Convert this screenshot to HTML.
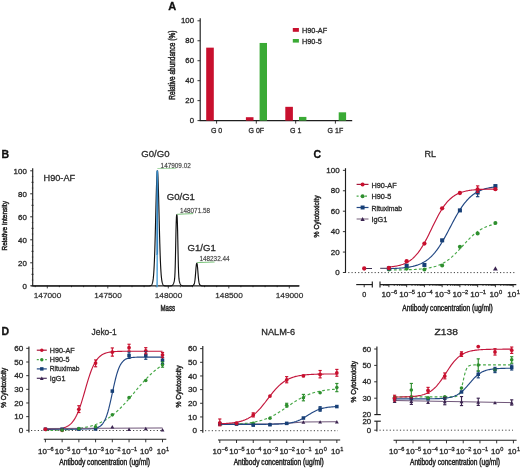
<!DOCTYPE html><html><head><meta charset="utf-8"><style>html,body{margin:0;padding:0;background:#fff;}svg{display:block;will-change:transform;}text{font-family:"Liberation Sans", sans-serif;}</style></head><body>
<div id="w"><svg width="520" height="468" viewBox="0 0 520 468">
<rect width="520" height="468" fill="#ffffff"/>
<text x="168.20" y="10.20" font-size="11" text-anchor="start" fill="#111" stroke="#111" stroke-width="0.3" font-weight="bold"  >A</text>
<line x1="200.20" y1="18.30" x2="200.20" y2="121.10" stroke="#1e1e1e" stroke-width="1.15" />
<line x1="199.70" y1="120.60" x2="352.20" y2="120.60" stroke="#1e1e1e" stroke-width="1.15" />
<line x1="197.50" y1="120.60" x2="200.20" y2="120.60" stroke="#1e1e1e" stroke-width="0.9" />
<text x="194.00" y="123.20" font-size="7.3" text-anchor="end" fill="#2a2a2a" stroke="#2a2a2a" stroke-width="0.3" font-weight="normal" textLength="4.34" lengthAdjust="spacingAndGlyphs" >0</text>
<line x1="197.50" y1="100.64" x2="200.20" y2="100.64" stroke="#1e1e1e" stroke-width="0.9" />
<text x="194.00" y="103.24" font-size="7.3" text-anchor="end" fill="#2a2a2a" stroke="#2a2a2a" stroke-width="0.3" font-weight="normal" textLength="8.69" lengthAdjust="spacingAndGlyphs" >20</text>
<line x1="197.50" y1="80.68" x2="200.20" y2="80.68" stroke="#1e1e1e" stroke-width="0.9" />
<text x="194.00" y="83.28" font-size="7.3" text-anchor="end" fill="#2a2a2a" stroke="#2a2a2a" stroke-width="0.3" font-weight="normal" textLength="8.69" lengthAdjust="spacingAndGlyphs" >40</text>
<line x1="197.50" y1="60.72" x2="200.20" y2="60.72" stroke="#1e1e1e" stroke-width="0.9" />
<text x="194.00" y="63.32" font-size="7.3" text-anchor="end" fill="#2a2a2a" stroke="#2a2a2a" stroke-width="0.3" font-weight="normal" textLength="8.69" lengthAdjust="spacingAndGlyphs" >60</text>
<line x1="197.50" y1="40.76" x2="200.20" y2="40.76" stroke="#1e1e1e" stroke-width="0.9" />
<text x="194.00" y="43.36" font-size="7.3" text-anchor="end" fill="#2a2a2a" stroke="#2a2a2a" stroke-width="0.3" font-weight="normal" textLength="8.69" lengthAdjust="spacingAndGlyphs" >80</text>
<line x1="197.50" y1="20.80" x2="200.20" y2="20.80" stroke="#1e1e1e" stroke-width="0.9" />
<text x="194.00" y="23.40" font-size="7.3" text-anchor="end" fill="#2a2a2a" stroke="#2a2a2a" stroke-width="0.3" font-weight="normal" textLength="13.03" lengthAdjust="spacingAndGlyphs" >100</text>
<text transform="translate(174.60,65.20) rotate(-90)" x="0" y="0" font-size="8.3" text-anchor="middle" fill="#2a2a2a" stroke="#2a2a2a" stroke-width="0.5" font-weight="normal" textLength="69.0" lengthAdjust="spacingAndGlyphs">Relative abundance (%)</text>
<line x1="216.60" y1="120.60" x2="216.60" y2="123.60" stroke="#1e1e1e" stroke-width="0.9" />
<text x="216.60" y="133.20" font-size="7.0" text-anchor="middle" fill="#2a2a2a" stroke="#2a2a2a" stroke-width="0.3" font-weight="normal"  >G 0</text>
<rect x="206.20" y="47.65" width="7.60" height="72.95" fill="#c8102e"/>
<rect x="219.90" y="120.60" width="7.40" height="0.00" fill="#3aaa35"/>
<line x1="256.30" y1="120.60" x2="256.30" y2="123.60" stroke="#1e1e1e" stroke-width="0.9" />
<text x="256.30" y="133.20" font-size="7.0" text-anchor="middle" fill="#2a2a2a" stroke="#2a2a2a" stroke-width="0.3" font-weight="normal"  >G 0F</text>
<rect x="245.90" y="117.21" width="7.60" height="3.39" fill="#c8102e"/>
<rect x="259.60" y="42.96" width="7.40" height="77.64" fill="#3aaa35"/>
<line x1="295.70" y1="120.60" x2="295.70" y2="123.60" stroke="#1e1e1e" stroke-width="0.9" />
<text x="295.70" y="133.20" font-size="7.0" text-anchor="middle" fill="#2a2a2a" stroke="#2a2a2a" stroke-width="0.3" font-weight="normal"  >G 1</text>
<rect x="285.30" y="106.83" width="7.60" height="13.77" fill="#c8102e"/>
<rect x="299.00" y="116.91" width="7.40" height="3.69" fill="#3aaa35"/>
<line x1="335.40" y1="120.60" x2="335.40" y2="123.60" stroke="#1e1e1e" stroke-width="0.9" />
<text x="335.40" y="133.20" font-size="7.0" text-anchor="middle" fill="#2a2a2a" stroke="#2a2a2a" stroke-width="0.3" font-weight="normal"  >G 1F</text>
<rect x="325.00" y="120.60" width="7.60" height="0.00" fill="#c8102e"/>
<rect x="338.70" y="112.32" width="7.40" height="8.28" fill="#3aaa35"/>
<rect x="292.80" y="28.00" width="6.10" height="3.80" fill="#c8102e"/>
<rect x="292.80" y="39.00" width="6.10" height="3.60" fill="#3aaa35"/>
<text x="302.00" y="32.50" font-size="7.3" text-anchor="start" fill="#2a2a2a" stroke="#2a2a2a" stroke-width="0.3" font-weight="normal"  >H90-AF</text>
<text x="302.00" y="43.60" font-size="7.3" text-anchor="start" fill="#2a2a2a" stroke="#2a2a2a" stroke-width="0.3" font-weight="normal"  >H90-5</text>
<text x="1.40" y="157.60" font-size="10.5" text-anchor="start" fill="#111" stroke="#111" stroke-width="0.3" font-weight="bold"  >B</text>
<line x1="32.70" y1="168.30" x2="32.70" y2="286.30" stroke="#1e1e1e" stroke-width="1.15" />
<line x1="31.40" y1="285.90" x2="299.50" y2="285.90" stroke="#1e1e1e" stroke-width="1.3" />
<line x1="30.20" y1="285.80" x2="32.70" y2="285.80" stroke="#1e1e1e" stroke-width="0.9" />
<text x="26.80" y="288.80" font-size="7.2" text-anchor="end" fill="#2a2a2a" stroke="#2a2a2a" stroke-width="0.3" font-weight="normal" textLength="4.40" lengthAdjust="spacingAndGlyphs" >0</text>
<line x1="30.20" y1="262.80" x2="32.70" y2="262.80" stroke="#1e1e1e" stroke-width="0.9" />
<text x="26.80" y="265.80" font-size="7.2" text-anchor="end" fill="#2a2a2a" stroke="#2a2a2a" stroke-width="0.3" font-weight="normal" textLength="8.81" lengthAdjust="spacingAndGlyphs" >20</text>
<line x1="30.20" y1="239.80" x2="32.70" y2="239.80" stroke="#1e1e1e" stroke-width="0.9" />
<text x="26.80" y="242.80" font-size="7.2" text-anchor="end" fill="#2a2a2a" stroke="#2a2a2a" stroke-width="0.3" font-weight="normal" textLength="8.81" lengthAdjust="spacingAndGlyphs" >40</text>
<line x1="30.20" y1="216.80" x2="32.70" y2="216.80" stroke="#1e1e1e" stroke-width="0.9" />
<text x="26.80" y="219.80" font-size="7.2" text-anchor="end" fill="#2a2a2a" stroke="#2a2a2a" stroke-width="0.3" font-weight="normal" textLength="8.81" lengthAdjust="spacingAndGlyphs" >60</text>
<line x1="30.20" y1="193.80" x2="32.70" y2="193.80" stroke="#1e1e1e" stroke-width="0.9" />
<text x="26.80" y="196.80" font-size="7.2" text-anchor="end" fill="#2a2a2a" stroke="#2a2a2a" stroke-width="0.3" font-weight="normal" textLength="8.81" lengthAdjust="spacingAndGlyphs" >80</text>
<line x1="30.20" y1="170.80" x2="32.70" y2="170.80" stroke="#1e1e1e" stroke-width="0.9" />
<text x="26.80" y="173.80" font-size="7.2" text-anchor="end" fill="#2a2a2a" stroke="#2a2a2a" stroke-width="0.3" font-weight="normal" textLength="13.21" lengthAdjust="spacingAndGlyphs" >100</text>
<line x1="31.80" y1="280.05" x2="33.30" y2="280.05" stroke="#1e1e1e" stroke-width="0.6" />
<line x1="31.50" y1="274.30" x2="33.50" y2="274.30" stroke="#1e1e1e" stroke-width="0.9" />
<line x1="31.80" y1="268.55" x2="33.30" y2="268.55" stroke="#1e1e1e" stroke-width="0.6" />
<line x1="31.80" y1="257.05" x2="33.30" y2="257.05" stroke="#1e1e1e" stroke-width="0.6" />
<line x1="31.50" y1="251.30" x2="33.50" y2="251.30" stroke="#1e1e1e" stroke-width="0.9" />
<line x1="31.80" y1="245.55" x2="33.30" y2="245.55" stroke="#1e1e1e" stroke-width="0.6" />
<line x1="31.80" y1="234.05" x2="33.30" y2="234.05" stroke="#1e1e1e" stroke-width="0.6" />
<line x1="31.50" y1="228.30" x2="33.50" y2="228.30" stroke="#1e1e1e" stroke-width="0.9" />
<line x1="31.80" y1="222.55" x2="33.30" y2="222.55" stroke="#1e1e1e" stroke-width="0.6" />
<line x1="31.80" y1="211.05" x2="33.30" y2="211.05" stroke="#1e1e1e" stroke-width="0.6" />
<line x1="31.50" y1="205.30" x2="33.50" y2="205.30" stroke="#1e1e1e" stroke-width="0.9" />
<line x1="31.80" y1="199.55" x2="33.30" y2="199.55" stroke="#1e1e1e" stroke-width="0.6" />
<line x1="31.80" y1="188.05" x2="33.30" y2="188.05" stroke="#1e1e1e" stroke-width="0.6" />
<line x1="31.50" y1="182.30" x2="33.50" y2="182.30" stroke="#1e1e1e" stroke-width="0.9" />
<line x1="31.80" y1="176.55" x2="33.30" y2="176.55" stroke="#1e1e1e" stroke-width="0.6" />
<line x1="35.20" y1="285.80" x2="35.20" y2="287.20" stroke="#1e1e1e" stroke-width="0.8" />
<line x1="47.30" y1="285.80" x2="47.30" y2="288.40" stroke="#1e1e1e" stroke-width="0.8" />
<text x="47.50" y="298.40" font-size="7.3" text-anchor="middle" fill="#2a2a2a" stroke="#2a2a2a" stroke-width="0.3" font-weight="normal" textLength="27.53" lengthAdjust="spacingAndGlyphs" stroke-opacity="0.6">147000</text>
<line x1="59.40" y1="285.80" x2="59.40" y2="287.20" stroke="#1e1e1e" stroke-width="0.8" />
<line x1="71.50" y1="285.80" x2="71.50" y2="287.20" stroke="#1e1e1e" stroke-width="0.8" />
<line x1="83.60" y1="285.80" x2="83.60" y2="287.20" stroke="#1e1e1e" stroke-width="0.8" />
<line x1="95.70" y1="285.80" x2="95.70" y2="287.20" stroke="#1e1e1e" stroke-width="0.8" />
<line x1="107.80" y1="285.80" x2="107.80" y2="288.40" stroke="#1e1e1e" stroke-width="0.8" />
<text x="108.00" y="298.40" font-size="7.3" text-anchor="middle" fill="#2a2a2a" stroke="#2a2a2a" stroke-width="0.3" font-weight="normal" textLength="27.53" lengthAdjust="spacingAndGlyphs" stroke-opacity="0.6">147500</text>
<line x1="119.90" y1="285.80" x2="119.90" y2="287.20" stroke="#1e1e1e" stroke-width="0.8" />
<line x1="132.00" y1="285.80" x2="132.00" y2="287.20" stroke="#1e1e1e" stroke-width="0.8" />
<line x1="144.10" y1="285.80" x2="144.10" y2="287.20" stroke="#1e1e1e" stroke-width="0.8" />
<line x1="156.20" y1="285.80" x2="156.20" y2="287.20" stroke="#1e1e1e" stroke-width="0.8" />
<line x1="168.30" y1="285.80" x2="168.30" y2="288.40" stroke="#1e1e1e" stroke-width="0.8" />
<text x="168.50" y="298.40" font-size="7.3" text-anchor="middle" fill="#2a2a2a" stroke="#2a2a2a" stroke-width="0.3" font-weight="normal" textLength="27.53" lengthAdjust="spacingAndGlyphs" stroke-opacity="0.6">148000</text>
<line x1="180.40" y1="285.80" x2="180.40" y2="287.20" stroke="#1e1e1e" stroke-width="0.8" />
<line x1="192.50" y1="285.80" x2="192.50" y2="287.20" stroke="#1e1e1e" stroke-width="0.8" />
<line x1="204.60" y1="285.80" x2="204.60" y2="287.20" stroke="#1e1e1e" stroke-width="0.8" />
<line x1="216.70" y1="285.80" x2="216.70" y2="287.20" stroke="#1e1e1e" stroke-width="0.8" />
<line x1="228.80" y1="285.80" x2="228.80" y2="288.40" stroke="#1e1e1e" stroke-width="0.8" />
<text x="229.00" y="298.40" font-size="7.3" text-anchor="middle" fill="#2a2a2a" stroke="#2a2a2a" stroke-width="0.3" font-weight="normal" textLength="27.53" lengthAdjust="spacingAndGlyphs" stroke-opacity="0.6">148500</text>
<line x1="240.90" y1="285.80" x2="240.90" y2="287.20" stroke="#1e1e1e" stroke-width="0.8" />
<line x1="253.00" y1="285.80" x2="253.00" y2="287.20" stroke="#1e1e1e" stroke-width="0.8" />
<line x1="265.10" y1="285.80" x2="265.10" y2="287.20" stroke="#1e1e1e" stroke-width="0.8" />
<line x1="277.20" y1="285.80" x2="277.20" y2="287.20" stroke="#1e1e1e" stroke-width="0.8" />
<line x1="289.30" y1="285.80" x2="289.30" y2="288.40" stroke="#1e1e1e" stroke-width="0.8" />
<text x="289.50" y="298.40" font-size="7.3" text-anchor="middle" fill="#2a2a2a" stroke="#2a2a2a" stroke-width="0.3" font-weight="normal" textLength="27.53" lengthAdjust="spacingAndGlyphs" stroke-opacity="0.6">149000</text>
<text transform="translate(6.80,225.80) rotate(-90)" x="0" y="0" font-size="7.4" text-anchor="middle" fill="#2a2a2a" stroke="#2a2a2a" stroke-width="0.5" font-weight="normal" textLength="49.4" lengthAdjust="spacingAndGlyphs">Relative intensity</text>
<text x="167.80" y="311.40" font-size="8.2" text-anchor="middle" fill="#2a2a2a" stroke="#2a2a2a" stroke-width="0.5" font-weight="normal" textLength="14.6" lengthAdjust="spacingAndGlyphs">Mass</text>
<text x="43.50" y="180.80" font-size="9.2" text-anchor="start" fill="#2a2a2a" stroke="#2a2a2a" stroke-width="0.3" font-weight="normal"  >H90-AF</text>
<polyline points="33.00,286.00 33.20,286.00 33.40,286.00 33.60,286.00 33.80,286.00 34.00,286.00 34.20,286.00 34.40,286.00 34.60,286.00 34.80,286.00 35.00,286.00 35.20,286.00 35.40,286.00 35.60,286.00 35.80,286.00 36.00,286.00 36.20,286.00 36.40,286.00 36.60,286.00 36.80,286.00 37.00,286.00 37.20,286.00 37.40,286.00 37.60,286.00 37.80,286.00 38.00,286.00 38.20,286.00 38.40,286.00 38.60,286.00 38.80,286.00 39.00,286.00 39.20,286.00 39.40,286.00 39.60,286.00 39.80,286.00 40.00,286.00 40.20,286.00 40.40,286.00 40.60,286.00 40.80,286.00 41.00,286.00 41.20,286.00 41.40,286.00 41.60,286.00 41.80,286.00 42.00,286.00 42.20,286.00 42.40,286.00 42.60,286.00 42.80,286.00 43.00,286.00 43.20,286.00 43.40,286.00 43.60,286.00 43.80,286.00 44.00,286.00 44.20,286.00 44.40,286.00 44.60,286.00 44.80,286.00 45.00,286.00 45.20,286.00 45.40,286.00 45.60,286.00 45.80,286.00 46.00,286.00 46.20,286.00 46.40,286.00 46.60,286.00 46.80,286.00 47.00,286.00 47.20,286.00 47.40,286.00 47.60,286.00 47.80,286.00 48.00,286.00 48.20,286.00 48.40,286.00 48.60,286.00 48.80,286.00 49.00,286.00 49.20,286.00 49.40,286.00 49.60,286.00 49.80,286.00 50.00,286.00 50.20,286.00 50.40,286.00 50.60,286.00 50.80,286.00 51.00,286.00 51.20,286.00 51.40,286.00 51.60,286.00 51.80,286.00 52.00,286.00 52.20,286.00 52.40,286.00 52.60,286.00 52.80,286.00 53.00,286.00 53.20,286.00 53.40,286.00 53.60,286.00 53.80,286.00 54.00,286.00 54.20,286.00 54.40,286.00 54.60,286.00 54.80,286.00 55.00,286.00 55.20,286.00 55.40,286.00 55.60,286.00 55.80,286.00 56.00,286.00 56.20,286.00 56.40,286.00 56.60,286.00 56.80,286.00 57.00,286.00 57.20,286.00 57.40,286.00 57.60,286.00 57.80,286.00 58.00,286.00 58.20,286.00 58.40,286.00 58.60,286.00 58.80,286.00 59.00,286.00 59.20,286.00 59.40,286.00 59.60,286.00 59.80,286.00 60.00,286.00 60.20,286.00 60.40,286.00 60.60,286.00 60.80,286.00 61.00,286.00 61.20,286.00 61.40,286.00 61.60,286.00 61.80,286.00 62.00,286.00 62.20,286.00 62.40,286.00 62.60,286.00 62.80,286.00 63.00,286.00 63.20,286.00 63.40,286.00 63.60,286.00 63.80,286.00 64.00,286.00 64.20,286.00 64.40,286.00 64.60,286.00 64.80,286.00 65.00,286.00 65.20,286.00 65.40,286.00 65.60,286.00 65.80,286.00 66.00,286.00 66.20,286.00 66.40,286.00 66.60,286.00 66.80,286.00 67.00,286.00 67.20,286.00 67.40,286.00 67.60,286.00 67.80,286.00 68.00,286.00 68.20,286.00 68.40,286.00 68.60,286.00 68.80,286.00 69.00,286.00 69.20,286.00 69.40,286.00 69.60,286.00 69.80,286.00 70.00,286.00 70.20,286.00 70.40,286.00 70.60,286.00 70.80,286.00 71.00,286.00 71.20,286.00 71.40,286.00 71.60,286.00 71.80,286.00 72.00,286.00 72.20,286.00 72.40,286.00 72.60,286.00 72.80,286.00 73.00,286.00 73.20,286.00 73.40,286.00 73.60,286.00 73.80,286.00 74.00,286.00 74.20,286.00 74.40,286.00 74.60,286.00 74.80,286.00 75.00,286.00 75.20,286.00 75.40,286.00 75.60,286.00 75.80,286.00 76.00,286.00 76.20,286.00 76.40,286.00 76.60,286.00 76.80,286.00 77.00,286.00 77.20,286.00 77.40,286.00 77.60,286.00 77.80,286.00 78.00,286.00 78.20,286.00 78.40,286.00 78.60,286.00 78.80,286.00 79.00,286.00 79.20,286.00 79.40,286.00 79.60,286.00 79.80,286.00 80.00,286.00 80.20,286.00 80.40,286.00 80.60,286.00 80.80,286.00 81.00,286.00 81.20,286.00 81.40,286.00 81.60,286.00 81.80,286.00 82.00,286.00 82.20,286.00 82.40,286.00 82.60,286.00 82.80,286.00 83.00,286.00 83.20,286.00 83.40,286.00 83.60,286.00 83.80,286.00 84.00,286.00 84.20,286.00 84.40,286.00 84.60,286.00 84.80,286.00 85.00,286.00 85.20,286.00 85.40,286.00 85.60,286.00 85.80,286.00 86.00,286.00 86.20,286.00 86.40,286.00 86.60,286.00 86.80,286.00 87.00,286.00 87.20,286.00 87.40,286.00 87.60,286.00 87.80,286.00 88.00,286.00 88.20,286.00 88.40,286.00 88.60,286.00 88.80,286.00 89.00,286.00 89.20,286.00 89.40,286.00 89.60,286.00 89.80,286.00 90.00,286.00 90.20,286.00 90.40,286.00 90.60,286.00 90.80,286.00 91.00,286.00 91.20,286.00 91.40,286.00 91.60,286.00 91.80,286.00 92.00,286.00 92.20,286.00 92.40,286.00 92.60,286.00 92.80,286.00 93.00,286.00 93.20,286.00 93.40,286.00 93.60,286.00 93.80,286.00 94.00,286.00 94.20,286.00 94.40,286.00 94.60,286.00 94.80,286.00 95.00,286.00 95.20,286.00 95.40,286.00 95.60,286.00 95.80,286.00 96.00,286.00 96.20,286.00 96.40,286.00 96.60,286.00 96.80,286.00 97.00,286.00 97.20,286.00 97.40,286.00 97.60,286.00 97.80,286.00 98.00,286.00 98.20,286.00 98.40,286.00 98.60,286.00 98.80,286.00 99.00,286.00 99.20,286.00 99.40,286.00 99.60,286.00 99.80,286.00 100.00,286.00 100.20,286.00 100.40,286.00 100.60,286.00 100.80,286.00 101.00,286.00 101.20,286.00 101.40,286.00 101.60,286.00 101.80,286.00 102.00,286.00 102.20,286.00 102.40,286.00 102.60,286.00 102.80,286.00 103.00,286.00 103.20,286.00 103.40,286.00 103.60,286.00 103.80,286.00 104.00,286.00 104.20,286.00 104.40,286.00 104.60,286.00 104.80,286.00 105.00,286.00 105.20,286.00 105.40,286.00 105.60,286.00 105.80,286.00 106.00,286.00 106.20,286.00 106.40,286.00 106.60,286.00 106.80,286.00 107.00,286.00 107.20,286.00 107.40,286.00 107.60,286.00 107.80,286.00 108.00,286.00 108.20,286.00 108.40,286.00 108.60,286.00 108.80,286.00 109.00,286.00 109.20,286.00 109.40,286.00 109.60,286.00 109.80,286.00 110.00,286.00 110.20,286.00 110.40,286.00 110.60,286.00 110.80,286.00 111.00,286.00 111.20,286.00 111.40,286.00 111.60,286.00 111.80,286.00 112.00,286.00 112.20,286.00 112.40,286.00 112.60,286.00 112.80,286.00 113.00,286.00 113.20,286.00 113.40,286.00 113.60,286.00 113.80,286.00 114.00,286.00 114.20,286.00 114.40,286.00 114.60,286.00 114.80,286.00 115.00,286.00 115.20,286.00 115.40,286.00 115.60,286.00 115.80,286.00 116.00,286.00 116.20,286.00 116.40,286.00 116.60,286.00 116.80,286.00 117.00,286.00 117.20,286.00 117.40,286.00 117.60,286.00 117.80,286.00 118.00,286.00 118.20,286.00 118.40,286.00 118.60,286.00 118.80,286.00 119.00,286.00 119.20,286.00 119.40,286.00 119.60,286.00 119.80,286.00 120.00,286.00 120.20,286.00 120.40,286.00 120.60,286.00 120.80,286.00 121.00,286.00 121.20,286.00 121.40,286.00 121.60,286.00 121.80,286.00 122.00,286.00 122.20,286.00 122.40,286.00 122.60,286.00 122.80,286.00 123.00,286.00 123.20,286.00 123.40,286.00 123.60,286.00 123.80,286.00 124.00,286.00 124.20,286.00 124.40,286.00 124.60,286.00 124.80,286.00 125.00,286.00 125.20,286.00 125.40,286.00 125.60,286.00 125.80,286.00 126.00,286.00 126.20,286.00 126.40,286.00 126.60,286.00 126.80,286.00 127.00,286.00 127.20,286.00 127.40,286.00 127.60,286.00 127.80,286.00 128.00,286.00 128.20,286.00 128.40,286.00 128.60,286.00 128.80,286.00 129.00,286.00 129.20,286.00 129.40,286.00 129.60,286.00 129.80,286.00 130.00,286.00 130.20,286.00 130.40,286.00 130.60,286.00 130.80,286.00 131.00,286.00 131.20,286.00 131.40,286.00 131.60,286.00 131.80,286.00 132.00,286.00 132.20,286.00 132.40,286.00 132.60,286.00 132.80,286.00 133.00,286.00 133.20,286.00 133.40,286.00 133.60,286.00 133.80,286.00 134.00,286.00 134.20,286.00 134.40,286.00 134.60,286.00 134.80,286.00 135.00,286.00 135.20,286.00 135.40,286.00 135.60,286.00 135.80,286.00 136.00,286.00 136.20,286.00 136.40,286.00 136.60,286.00 136.80,286.00 137.00,286.00 137.20,286.00 137.40,286.00 137.60,286.00 137.80,286.00 138.00,286.00 138.20,286.00 138.40,286.00 138.60,286.00 138.80,286.00 139.00,286.00 139.20,286.00 139.40,286.00 139.60,286.00 139.80,286.00 140.00,286.00 140.20,286.00 140.40,286.00 140.60,286.00 140.80,286.00 141.00,286.00 141.20,286.00 141.40,286.00 141.60,286.00 141.80,286.00 142.00,286.00 142.20,286.00 142.40,286.00 142.60,286.00 142.80,286.00 143.00,286.00 143.20,286.00 143.40,286.00 143.60,286.00 143.80,286.00 144.00,286.00 144.20,286.00 144.40,286.00 144.60,286.00 144.80,286.00 145.00,286.00 145.20,286.00 145.40,286.00 145.60,286.00 145.80,286.00 146.00,286.00 146.20,286.00 146.40,286.00 146.60,286.00 146.80,286.00 147.00,286.00 147.20,286.00 147.40,286.00 147.60,286.00 147.80,285.99 148.00,285.99 148.20,285.99 148.40,285.98 148.60,285.98 148.80,285.97 149.00,285.96 149.20,285.95 149.40,285.93 149.60,285.91 149.80,285.88 150.00,285.84 150.20,285.79 150.40,285.73 150.60,285.66 150.80,285.56 151.00,285.44 151.20,285.29 151.40,285.10 151.60,284.87 151.80,284.58 152.00,284.21 152.20,283.74 152.40,283.16 152.60,282.43 152.80,281.51 153.00,280.36 153.20,278.93 153.40,277.15 153.60,274.97 153.80,272.31 154.00,269.12 154.20,265.32 154.40,260.87 154.60,255.73 154.80,249.90 155.00,243.39 155.20,236.28 155.40,228.66 155.60,220.68 155.80,212.53 156.00,204.44 156.20,196.67 156.40,189.48 156.60,183.14 156.80,177.91 157.00,174.00 157.20,171.59 157.40,170.77 157.60,171.59 157.80,174.00 158.00,177.91 158.20,183.14 158.40,189.48 158.60,196.67 158.80,204.44 159.00,212.53 159.20,220.68 159.40,228.66 159.60,236.28 159.80,243.39 160.00,249.90 160.20,255.73 160.40,260.87 160.60,265.32 160.80,269.12 161.00,272.31 161.20,274.97 161.40,277.15 161.60,278.93 161.80,280.36 162.00,281.51 162.20,282.43 162.40,283.16 162.60,283.74 162.80,284.21 163.00,284.58 163.20,284.87 163.40,285.10 163.60,285.29 163.80,285.44 164.00,285.56 164.20,285.66 164.40,285.73 164.60,285.79 164.80,285.84 165.00,285.88 165.20,285.91 165.40,285.93 165.60,285.95 165.80,285.96 166.00,285.97 166.20,285.98 166.40,285.98 166.60,285.99 166.80,285.99 167.00,285.99 167.20,286.00 167.40,286.00 167.60,286.00 167.80,286.00 168.00,286.00 168.20,286.00 168.40,286.00 168.60,286.00 168.80,286.00 169.00,286.00 169.20,286.00 169.40,285.99 169.60,285.99 169.80,285.99 170.00,285.98 170.20,285.97 170.40,285.96 170.60,285.94 170.80,285.92 171.00,285.89 171.20,285.85 171.40,285.80 171.60,285.73 171.80,285.64 172.00,285.53 172.20,285.39 172.40,285.22 172.60,285.01 172.80,284.76 173.00,284.46 173.20,284.10 173.40,283.70 173.60,283.24 173.80,282.71 174.00,282.11 174.20,281.38 174.40,280.40 174.60,278.93 174.80,276.55 175.00,272.74 175.20,267.02 175.40,259.25 175.60,249.83 175.80,239.74 176.00,230.29 176.20,222.69 176.40,217.65 176.60,215.22 176.80,214.70 177.00,215.22 177.20,217.65 177.40,222.69 177.60,230.29 177.80,239.74 178.00,249.83 178.20,259.25 178.40,267.02 178.60,272.74 178.80,276.55 179.00,278.93 179.20,280.40 179.40,281.38 179.60,282.11 179.80,282.71 180.00,283.24 180.20,283.70 180.40,284.10 180.60,284.46 180.80,284.76 181.00,285.01 181.20,285.22 181.40,285.39 181.60,285.53 181.80,285.64 182.00,285.73 182.20,285.80 182.40,285.85 182.60,285.89 182.80,285.92 183.00,285.94 183.20,285.96 183.40,285.97 183.60,285.98 183.80,285.99 184.00,285.99 184.20,285.99 184.40,286.00 184.60,286.00 184.80,286.00 185.00,286.00 185.20,286.00 185.40,286.00 185.60,286.00 185.80,286.00 186.00,286.00 186.20,286.00 186.40,286.00 186.60,286.00 186.80,286.00 187.00,286.00 187.20,286.00 187.40,286.00 187.60,286.00 187.80,286.00 188.00,286.00 188.20,286.00 188.40,286.00 188.60,286.00 188.80,286.00 189.00,286.00 189.20,286.00 189.40,286.00 189.60,286.00 189.80,286.00 190.00,285.99 190.20,285.99 190.40,285.99 190.60,285.98 190.80,285.97 191.00,285.96 191.20,285.95 191.40,285.93 191.60,285.90 191.80,285.87 192.00,285.83 192.20,285.78 192.40,285.72 192.60,285.64 192.80,285.55 193.00,285.44 193.20,285.31 193.40,285.15 193.60,284.95 193.80,284.70 194.00,284.37 194.20,283.92 194.40,283.30 194.60,282.44 194.80,281.27 195.00,279.75 195.20,277.84 195.40,275.59 195.60,273.10 195.80,270.52 196.00,268.07 196.20,265.97 196.40,264.40 196.60,263.49 196.80,263.23 197.00,263.49 197.20,264.40 197.40,265.97 197.60,268.07 197.80,270.52 198.00,273.10 198.20,275.59 198.40,277.84 198.60,279.75 198.80,281.27 199.00,282.44 199.20,283.30 199.40,283.92 199.60,284.37 199.80,284.70 200.00,284.95 200.20,285.15 200.40,285.31 200.60,285.44 200.80,285.55 201.00,285.64 201.20,285.72 201.40,285.78 201.60,285.83 201.80,285.87 202.00,285.90 202.20,285.93 202.40,285.95 202.60,285.96 202.80,285.97 203.00,285.98 203.20,285.99 203.40,285.99 203.60,285.99 203.80,286.00 204.00,286.00 204.20,286.00 204.40,286.00 204.60,286.00 204.80,286.00 205.00,286.00 205.20,286.00 205.40,286.00 205.60,286.00 205.80,286.00 206.00,286.00 206.20,286.00 206.40,286.00 206.60,286.00 206.80,286.00 207.00,286.00 207.20,286.00 207.40,286.00 207.60,286.00 207.80,286.00 208.00,286.00 208.20,286.00 208.40,286.00 208.60,286.00 208.80,286.00 209.00,286.00 209.20,286.00 209.40,286.00 209.60,286.00 209.80,286.00 210.00,286.00 210.20,286.00 210.40,286.00 210.60,286.00 210.80,286.00 211.00,286.00 211.20,286.00 211.40,286.00 211.60,286.00 211.80,286.00 212.00,286.00 212.20,286.00 212.40,286.00 212.60,286.00 212.80,286.00 213.00,286.00 213.20,286.00 213.40,286.00 213.60,286.00 213.80,286.00 214.00,286.00 214.20,286.00 214.40,286.00 214.60,286.00 214.80,286.00 215.00,286.00 215.20,286.00 215.40,286.00 215.60,286.00 215.80,286.00 216.00,286.00 216.20,286.00 216.40,286.00 216.60,286.00 216.80,286.00 217.00,286.00 217.20,286.00 217.40,286.00 217.60,286.00 217.80,286.00 218.00,286.00 218.20,286.00 218.40,286.00 218.60,286.00 218.80,286.00 219.00,286.00 219.20,286.00 219.40,286.00 219.60,286.00 219.80,286.00 220.00,286.00 220.20,286.00 220.40,286.00 220.60,286.00 220.80,286.00 221.00,286.00 221.20,286.00 221.40,286.00 221.60,286.00 221.80,286.00 222.00,286.00 222.20,286.00 222.40,286.00 222.60,286.00 222.80,286.00 223.00,286.00 223.20,286.00 223.40,286.00 223.60,286.00 223.80,286.00 224.00,286.00 224.20,286.00 224.40,286.00 224.60,286.00 224.80,286.00 225.00,286.00 225.20,286.00 225.40,286.00 225.60,286.00 225.80,286.00 226.00,286.00 226.20,286.00 226.40,286.00 226.60,286.00 226.80,286.00 227.00,286.00 227.20,286.00 227.40,286.00 227.60,286.00 227.80,286.00 228.00,286.00 228.20,286.00 228.40,286.00 228.60,286.00 228.80,286.00 229.00,286.00 229.20,286.00 229.40,286.00 229.60,286.00 229.80,286.00 230.00,286.00 230.20,286.00 230.40,286.00 230.60,286.00 230.80,286.00 231.00,286.00 231.20,286.00 231.40,286.00 231.60,286.00 231.80,286.00 232.00,286.00 232.20,286.00 232.40,286.00 232.60,286.00 232.80,286.00 233.00,286.00 233.20,286.00 233.40,286.00 233.60,286.00 233.80,286.00 234.00,286.00 234.20,286.00 234.40,286.00 234.60,286.00 234.80,286.00 235.00,286.00 235.20,286.00 235.40,286.00 235.60,286.00 235.80,286.00 236.00,286.00 236.20,286.00 236.40,286.00 236.60,286.00 236.80,286.00 237.00,286.00 237.20,286.00 237.40,286.00 237.60,286.00 237.80,286.00 238.00,286.00 238.20,286.00 238.40,286.00 238.60,286.00 238.80,286.00 239.00,286.00 239.20,286.00 239.40,286.00 239.60,286.00 239.80,286.00 240.00,286.00 240.20,286.00 240.40,286.00 240.60,286.00 240.80,286.00 241.00,286.00 241.20,286.00 241.40,286.00 241.60,286.00 241.80,286.00 242.00,286.00 242.20,286.00 242.40,286.00 242.60,286.00 242.80,286.00 243.00,286.00 243.20,286.00 243.40,286.00 243.60,286.00 243.80,286.00 244.00,286.00 244.20,286.00 244.40,286.00 244.60,286.00 244.80,286.00 245.00,286.00 245.20,286.00 245.40,286.00 245.60,286.00 245.80,286.00 246.00,286.00 246.20,286.00 246.40,286.00 246.60,286.00 246.80,286.00 247.00,286.00 247.20,286.00 247.40,286.00 247.60,286.00 247.80,286.00 248.00,286.00 248.20,286.00 248.40,286.00 248.60,286.00 248.80,286.00 249.00,286.00 249.20,286.00 249.40,286.00 249.60,286.00 249.80,286.00 250.00,286.00 250.20,286.00 250.40,286.00 250.60,286.00 250.80,286.00 251.00,286.00 251.20,286.00 251.40,286.00 251.60,286.00 251.80,286.00 252.00,286.00 252.20,286.00 252.40,286.00 252.60,286.00 252.80,286.00 253.00,286.00 253.20,286.00 253.40,286.00 253.60,286.00 253.80,286.00 254.00,286.00 254.20,286.00 254.40,286.00 254.60,286.00 254.80,286.00 255.00,286.00 255.20,286.00 255.40,286.00 255.60,286.00 255.80,286.00 256.00,286.00 256.20,286.00 256.40,286.00 256.60,286.00 256.80,286.00 257.00,286.00 257.20,286.00 257.40,286.00 257.60,286.00 257.80,286.00 258.00,286.00 258.20,286.00 258.40,286.00 258.60,286.00 258.80,286.00 259.00,286.00 259.20,286.00 259.40,286.00 259.60,286.00 259.80,286.00 260.00,286.00 260.20,286.00 260.40,286.00 260.60,286.00 260.80,286.00 261.00,286.00 261.20,286.00 261.40,286.00 261.60,286.00 261.80,286.00 262.00,286.00 262.20,286.00 262.40,286.00 262.60,286.00 262.80,286.00 263.00,286.00 263.20,286.00 263.40,286.00 263.60,286.00 263.80,286.00 264.00,286.00 264.20,286.00 264.40,286.00 264.60,286.00 264.80,286.00 265.00,286.00 265.20,286.00 265.40,286.00 265.60,286.00 265.80,286.00 266.00,286.00 266.20,286.00 266.40,286.00 266.60,286.00 266.80,286.00 267.00,286.00 267.20,286.00 267.40,286.00 267.60,286.00 267.80,286.00 268.00,286.00 268.20,286.00 268.40,286.00 268.60,286.00 268.80,286.00 269.00,286.00 269.20,286.00 269.40,286.00 269.60,286.00 269.80,286.00 270.00,286.00 270.20,286.00 270.40,286.00 270.60,286.00 270.80,286.00 271.00,286.00 271.20,286.00 271.40,286.00 271.60,286.00 271.80,286.00 272.00,286.00 272.20,286.00 272.40,286.00 272.60,286.00 272.80,286.00 273.00,286.00 273.20,286.00 273.40,286.00 273.60,286.00 273.80,286.00 274.00,286.00 274.20,286.00 274.40,286.00 274.60,286.00 274.80,286.00 275.00,286.00 275.20,286.00 275.40,286.00 275.60,286.00 275.80,286.00 276.00,286.00 276.20,286.00 276.40,286.00 276.60,286.00 276.80,286.00 277.00,286.00 277.20,286.00 277.40,286.00 277.60,286.00 277.80,286.00 278.00,286.00 278.20,286.00 278.40,286.00 278.60,286.00 278.80,286.00 279.00,286.00 279.20,286.00 279.40,286.00 279.60,286.00 279.80,286.00 280.00,286.00 280.20,286.00 280.40,286.00 280.60,286.00 280.80,286.00 281.00,286.00 281.20,286.00 281.40,286.00 281.60,286.00 281.80,286.00 282.00,286.00 282.20,286.00 282.40,286.00 282.60,286.00 282.80,286.00 283.00,286.00 283.20,286.00 283.40,286.00 283.60,286.00 283.80,286.00 284.00,286.00 284.20,286.00 284.40,286.00 284.60,286.00 284.80,286.00 285.00,286.00 285.20,286.00 285.40,286.00 285.60,286.00 285.80,286.00 286.00,286.00 286.20,286.00 286.40,286.00 286.60,286.00 286.80,286.00 287.00,286.00 287.20,286.00 287.40,286.00 287.60,286.00 287.80,286.00 288.00,286.00 288.20,286.00 288.40,286.00 288.60,286.00 288.80,286.00 289.00,286.00 289.20,286.00 289.40,286.00 289.60,286.00 289.80,286.00 290.00,286.00 290.20,286.00 290.40,286.00 290.60,286.00 290.80,286.00 291.00,286.00 291.20,286.00 291.40,286.00 291.60,286.00 291.80,286.00 292.00,286.00 292.20,286.00 292.40,286.00 292.60,286.00 292.80,286.00 293.00,286.00 293.20,286.00 293.40,286.00 293.60,286.00 293.80,286.00 294.00,286.00 294.20,286.00 294.40,286.00 294.60,286.00 294.80,286.00 295.00,286.00 295.20,286.00 295.40,286.00 295.60,286.00 295.80,286.00 296.00,286.00 296.20,286.00 296.40,286.00 296.60,286.00 296.80,286.00 297.00,286.00 297.20,286.00 297.40,286.00 297.60,286.00 297.80,286.00 298.00,286.00 298.20,286.00 298.40,286.00 298.60,286.00 298.80,286.00 299.00,286.00" fill="none" stroke="#111111" stroke-width="1.15" stroke-linejoin="round" />
<line x1="157.30" y1="170.60" x2="157.20" y2="255.00" stroke="#3587c4" stroke-width="1.8" />
<line x1="157.20" y1="254.00" x2="157.10" y2="287.20" stroke="#4aa0d8" stroke-width="1.4" />
<line x1="157.40" y1="168.50" x2="176.00" y2="168.30" stroke="#8fd08f" stroke-width="0.8" />
<line x1="176.90" y1="214.30" x2="193.20" y2="213.60" stroke="#5cb85c" stroke-width="0.8" />
<line x1="197.10" y1="262.60" x2="214.60" y2="262.00" stroke="#5cb85c" stroke-width="0.8" />
<text x="160.60" y="167.60" font-size="6.4" text-anchor="start" fill="#3a3a3a" stroke="#3a3a3a" stroke-width="0.3" font-weight="normal"  stroke-opacity="0.4">147909.02</text>
<text x="179.90" y="212.60" font-size="6.4" text-anchor="start" fill="#3a3a3a" stroke="#3a3a3a" stroke-width="0.3" font-weight="normal"  stroke-opacity="0.4">148071.58</text>
<text x="199.40" y="261.30" font-size="6.4" text-anchor="start" fill="#3a3a3a" stroke="#3a3a3a" stroke-width="0.3" font-weight="normal"  stroke-opacity="0.4">148232.44</text>
<text x="141.30" y="157.40" font-size="9.6" text-anchor="start" fill="#2a2a2a" stroke="#2a2a2a" stroke-width="0.3" font-weight="normal"  >G0/G0</text>
<text x="166.70" y="200.00" font-size="9.6" text-anchor="start" fill="#2a2a2a" stroke="#2a2a2a" stroke-width="0.3" font-weight="normal"  >G0/G1</text>
<text x="187.50" y="251.20" font-size="9.6" text-anchor="start" fill="#2a2a2a" stroke="#2a2a2a" stroke-width="0.3" font-weight="normal"  >G1/G1</text>
<text x="313.40" y="157.70" font-size="10.5" text-anchor="start" fill="#111" stroke="#111" stroke-width="0.3" font-weight="bold"  >C</text>
<text x="430.20" y="157.20" font-size="9.0" text-anchor="middle" fill="#2a2a2a" stroke="#2a2a2a" stroke-width="0.3" font-weight="normal"  >RL</text>
<line x1="345.50" y1="168.20" x2="345.50" y2="272.90" stroke="#1e1e1e" stroke-width="1.15" />
<line x1="342.90" y1="272.50" x2="345.50" y2="272.50" stroke="#1e1e1e" stroke-width="0.9" />
<text x="339.70" y="275.10" font-size="7.4" text-anchor="end" fill="#2a2a2a" stroke="#2a2a2a" stroke-width="0.3" font-weight="normal" textLength="4.44" lengthAdjust="spacingAndGlyphs" >0</text>
<line x1="342.90" y1="252.07" x2="345.50" y2="252.07" stroke="#1e1e1e" stroke-width="0.9" />
<text x="339.70" y="254.67" font-size="7.4" text-anchor="end" fill="#2a2a2a" stroke="#2a2a2a" stroke-width="0.3" font-weight="normal" textLength="8.89" lengthAdjust="spacingAndGlyphs" >20</text>
<line x1="342.90" y1="231.64" x2="345.50" y2="231.64" stroke="#1e1e1e" stroke-width="0.9" />
<text x="339.70" y="234.24" font-size="7.4" text-anchor="end" fill="#2a2a2a" stroke="#2a2a2a" stroke-width="0.3" font-weight="normal" textLength="8.89" lengthAdjust="spacingAndGlyphs" >40</text>
<line x1="342.90" y1="211.21" x2="345.50" y2="211.21" stroke="#1e1e1e" stroke-width="0.9" />
<text x="339.70" y="213.81" font-size="7.4" text-anchor="end" fill="#2a2a2a" stroke="#2a2a2a" stroke-width="0.3" font-weight="normal" textLength="8.89" lengthAdjust="spacingAndGlyphs" >60</text>
<line x1="342.90" y1="190.78" x2="345.50" y2="190.78" stroke="#1e1e1e" stroke-width="0.9" />
<text x="339.70" y="193.38" font-size="7.4" text-anchor="end" fill="#2a2a2a" stroke="#2a2a2a" stroke-width="0.3" font-weight="normal" textLength="8.89" lengthAdjust="spacingAndGlyphs" >80</text>
<line x1="342.90" y1="170.35" x2="345.50" y2="170.35" stroke="#1e1e1e" stroke-width="0.9" />
<text x="339.70" y="172.95" font-size="7.4" text-anchor="end" fill="#2a2a2a" stroke="#2a2a2a" stroke-width="0.3" font-weight="normal" textLength="13.33" lengthAdjust="spacingAndGlyphs" >100</text>
<line x1="348.20" y1="272.60" x2="514.50" y2="272.60" stroke="#444" stroke-width="1.0" stroke-dasharray="1.2,2.1"/>
<text transform="translate(319.20,216.40) rotate(-90)" x="0" y="0" font-size="7.8" text-anchor="middle" fill="#2a2a2a" stroke="#2a2a2a" stroke-width="0.5" font-weight="normal" textLength="42.0" lengthAdjust="spacingAndGlyphs">% Cytotoxicity</text>
<line x1="356.20" y1="284.60" x2="372.30" y2="284.60" stroke="#1e1e1e" stroke-width="1.15" />
<line x1="372.30" y1="281.60" x2="372.30" y2="287.40" stroke="#1e1e1e" stroke-width="1.15" />
<line x1="364.20" y1="284.60" x2="364.20" y2="287.20" stroke="#1e1e1e" stroke-width="0.9" />
<text x="364.20" y="297.20" font-size="7.2" text-anchor="middle" fill="#2a2a2a" stroke="#2a2a2a" stroke-width="0.3" font-weight="normal"  >0</text>
<line x1="380.00" y1="284.60" x2="516.30" y2="284.60" stroke="#1e1e1e" stroke-width="1.15" />
<line x1="380.00" y1="281.60" x2="380.00" y2="287.40" stroke="#1e1e1e" stroke-width="1.15" />
<line x1="388.90" y1="284.60" x2="388.90" y2="287.20" stroke="#1e1e1e" stroke-width="0.9" />
<text x="381.41" y="297.30" font-size="7.2" fill="#2a2a2a" stroke="#2a2a2a" stroke-width="0.3" textLength="9.13" lengthAdjust="spacingAndGlyphs">10</text>
<text x="390.89" y="294.10" font-size="5.76" fill="#2a2a2a" stroke="#2a2a2a" stroke-width="0.3">–6</text>
<line x1="394.24" y1="284.60" x2="394.24" y2="286.00" stroke="#1e1e1e" stroke-width="0.7" />
<line x1="397.37" y1="284.60" x2="397.37" y2="286.00" stroke="#1e1e1e" stroke-width="0.7" />
<line x1="399.59" y1="284.60" x2="399.59" y2="286.00" stroke="#1e1e1e" stroke-width="0.7" />
<line x1="401.31" y1="284.60" x2="401.31" y2="286.00" stroke="#1e1e1e" stroke-width="0.7" />
<line x1="402.71" y1="284.60" x2="402.71" y2="286.00" stroke="#1e1e1e" stroke-width="0.7" />
<line x1="403.90" y1="284.60" x2="403.90" y2="286.00" stroke="#1e1e1e" stroke-width="0.7" />
<line x1="404.93" y1="284.60" x2="404.93" y2="286.00" stroke="#1e1e1e" stroke-width="0.7" />
<line x1="405.84" y1="284.60" x2="405.84" y2="286.00" stroke="#1e1e1e" stroke-width="0.7" />
<line x1="406.65" y1="284.60" x2="406.65" y2="287.20" stroke="#1e1e1e" stroke-width="0.9" />
<text x="399.16" y="297.30" font-size="7.2" fill="#2a2a2a" stroke="#2a2a2a" stroke-width="0.3" textLength="9.13" lengthAdjust="spacingAndGlyphs">10</text>
<text x="408.64" y="294.10" font-size="5.76" fill="#2a2a2a" stroke="#2a2a2a" stroke-width="0.3">–5</text>
<line x1="411.99" y1="284.60" x2="411.99" y2="286.00" stroke="#1e1e1e" stroke-width="0.7" />
<line x1="415.12" y1="284.60" x2="415.12" y2="286.00" stroke="#1e1e1e" stroke-width="0.7" />
<line x1="417.34" y1="284.60" x2="417.34" y2="286.00" stroke="#1e1e1e" stroke-width="0.7" />
<line x1="419.06" y1="284.60" x2="419.06" y2="286.00" stroke="#1e1e1e" stroke-width="0.7" />
<line x1="420.46" y1="284.60" x2="420.46" y2="286.00" stroke="#1e1e1e" stroke-width="0.7" />
<line x1="421.65" y1="284.60" x2="421.65" y2="286.00" stroke="#1e1e1e" stroke-width="0.7" />
<line x1="422.68" y1="284.60" x2="422.68" y2="286.00" stroke="#1e1e1e" stroke-width="0.7" />
<line x1="423.59" y1="284.60" x2="423.59" y2="286.00" stroke="#1e1e1e" stroke-width="0.7" />
<line x1="424.40" y1="284.60" x2="424.40" y2="287.20" stroke="#1e1e1e" stroke-width="0.9" />
<text x="416.91" y="297.30" font-size="7.2" fill="#2a2a2a" stroke="#2a2a2a" stroke-width="0.3" textLength="9.13" lengthAdjust="spacingAndGlyphs">10</text>
<text x="426.39" y="294.10" font-size="5.76" fill="#2a2a2a" stroke="#2a2a2a" stroke-width="0.3">–4</text>
<line x1="429.74" y1="284.60" x2="429.74" y2="286.00" stroke="#1e1e1e" stroke-width="0.7" />
<line x1="432.87" y1="284.60" x2="432.87" y2="286.00" stroke="#1e1e1e" stroke-width="0.7" />
<line x1="435.09" y1="284.60" x2="435.09" y2="286.00" stroke="#1e1e1e" stroke-width="0.7" />
<line x1="436.81" y1="284.60" x2="436.81" y2="286.00" stroke="#1e1e1e" stroke-width="0.7" />
<line x1="438.21" y1="284.60" x2="438.21" y2="286.00" stroke="#1e1e1e" stroke-width="0.7" />
<line x1="439.40" y1="284.60" x2="439.40" y2="286.00" stroke="#1e1e1e" stroke-width="0.7" />
<line x1="440.43" y1="284.60" x2="440.43" y2="286.00" stroke="#1e1e1e" stroke-width="0.7" />
<line x1="441.34" y1="284.60" x2="441.34" y2="286.00" stroke="#1e1e1e" stroke-width="0.7" />
<line x1="442.15" y1="284.60" x2="442.15" y2="287.20" stroke="#1e1e1e" stroke-width="0.9" />
<text x="434.66" y="297.30" font-size="7.2" fill="#2a2a2a" stroke="#2a2a2a" stroke-width="0.3" textLength="9.13" lengthAdjust="spacingAndGlyphs">10</text>
<text x="444.14" y="294.10" font-size="5.76" fill="#2a2a2a" stroke="#2a2a2a" stroke-width="0.3">–3</text>
<line x1="447.49" y1="284.60" x2="447.49" y2="286.00" stroke="#1e1e1e" stroke-width="0.7" />
<line x1="450.62" y1="284.60" x2="450.62" y2="286.00" stroke="#1e1e1e" stroke-width="0.7" />
<line x1="452.84" y1="284.60" x2="452.84" y2="286.00" stroke="#1e1e1e" stroke-width="0.7" />
<line x1="454.56" y1="284.60" x2="454.56" y2="286.00" stroke="#1e1e1e" stroke-width="0.7" />
<line x1="455.96" y1="284.60" x2="455.96" y2="286.00" stroke="#1e1e1e" stroke-width="0.7" />
<line x1="457.15" y1="284.60" x2="457.15" y2="286.00" stroke="#1e1e1e" stroke-width="0.7" />
<line x1="458.18" y1="284.60" x2="458.18" y2="286.00" stroke="#1e1e1e" stroke-width="0.7" />
<line x1="459.09" y1="284.60" x2="459.09" y2="286.00" stroke="#1e1e1e" stroke-width="0.7" />
<line x1="459.90" y1="284.60" x2="459.90" y2="287.20" stroke="#1e1e1e" stroke-width="0.9" />
<text x="452.41" y="297.30" font-size="7.2" fill="#2a2a2a" stroke="#2a2a2a" stroke-width="0.3" textLength="9.13" lengthAdjust="spacingAndGlyphs">10</text>
<text x="461.89" y="294.10" font-size="5.76" fill="#2a2a2a" stroke="#2a2a2a" stroke-width="0.3">–2</text>
<line x1="465.24" y1="284.60" x2="465.24" y2="286.00" stroke="#1e1e1e" stroke-width="0.7" />
<line x1="468.37" y1="284.60" x2="468.37" y2="286.00" stroke="#1e1e1e" stroke-width="0.7" />
<line x1="470.59" y1="284.60" x2="470.59" y2="286.00" stroke="#1e1e1e" stroke-width="0.7" />
<line x1="472.31" y1="284.60" x2="472.31" y2="286.00" stroke="#1e1e1e" stroke-width="0.7" />
<line x1="473.71" y1="284.60" x2="473.71" y2="286.00" stroke="#1e1e1e" stroke-width="0.7" />
<line x1="474.90" y1="284.60" x2="474.90" y2="286.00" stroke="#1e1e1e" stroke-width="0.7" />
<line x1="475.93" y1="284.60" x2="475.93" y2="286.00" stroke="#1e1e1e" stroke-width="0.7" />
<line x1="476.84" y1="284.60" x2="476.84" y2="286.00" stroke="#1e1e1e" stroke-width="0.7" />
<line x1="477.65" y1="284.60" x2="477.65" y2="287.20" stroke="#1e1e1e" stroke-width="0.9" />
<text x="470.16" y="297.30" font-size="7.2" fill="#2a2a2a" stroke="#2a2a2a" stroke-width="0.3" textLength="9.13" lengthAdjust="spacingAndGlyphs">10</text>
<text x="479.64" y="294.10" font-size="5.76" fill="#2a2a2a" stroke="#2a2a2a" stroke-width="0.3">–1</text>
<line x1="482.99" y1="284.60" x2="482.99" y2="286.00" stroke="#1e1e1e" stroke-width="0.7" />
<line x1="486.12" y1="284.60" x2="486.12" y2="286.00" stroke="#1e1e1e" stroke-width="0.7" />
<line x1="488.34" y1="284.60" x2="488.34" y2="286.00" stroke="#1e1e1e" stroke-width="0.7" />
<line x1="490.06" y1="284.60" x2="490.06" y2="286.00" stroke="#1e1e1e" stroke-width="0.7" />
<line x1="491.46" y1="284.60" x2="491.46" y2="286.00" stroke="#1e1e1e" stroke-width="0.7" />
<line x1="492.65" y1="284.60" x2="492.65" y2="286.00" stroke="#1e1e1e" stroke-width="0.7" />
<line x1="493.68" y1="284.60" x2="493.68" y2="286.00" stroke="#1e1e1e" stroke-width="0.7" />
<line x1="494.59" y1="284.60" x2="494.59" y2="286.00" stroke="#1e1e1e" stroke-width="0.7" />
<line x1="495.40" y1="284.60" x2="495.40" y2="287.20" stroke="#1e1e1e" stroke-width="0.9" />
<text x="489.51" y="297.30" font-size="7.2" fill="#2a2a2a" stroke="#2a2a2a" stroke-width="0.3" textLength="9.13" lengthAdjust="spacingAndGlyphs">10</text>
<text x="498.99" y="294.10" font-size="5.76" fill="#2a2a2a" stroke="#2a2a2a" stroke-width="0.3">0</text>
<line x1="500.74" y1="284.60" x2="500.74" y2="286.00" stroke="#1e1e1e" stroke-width="0.7" />
<line x1="503.87" y1="284.60" x2="503.87" y2="286.00" stroke="#1e1e1e" stroke-width="0.7" />
<line x1="506.09" y1="284.60" x2="506.09" y2="286.00" stroke="#1e1e1e" stroke-width="0.7" />
<line x1="507.81" y1="284.60" x2="507.81" y2="286.00" stroke="#1e1e1e" stroke-width="0.7" />
<line x1="509.21" y1="284.60" x2="509.21" y2="286.00" stroke="#1e1e1e" stroke-width="0.7" />
<line x1="510.40" y1="284.60" x2="510.40" y2="286.00" stroke="#1e1e1e" stroke-width="0.7" />
<line x1="511.43" y1="284.60" x2="511.43" y2="286.00" stroke="#1e1e1e" stroke-width="0.7" />
<line x1="512.34" y1="284.60" x2="512.34" y2="286.00" stroke="#1e1e1e" stroke-width="0.7" />
<line x1="513.15" y1="284.60" x2="513.15" y2="287.20" stroke="#1e1e1e" stroke-width="0.9" />
<text x="507.26" y="297.30" font-size="7.2" fill="#2a2a2a" stroke="#2a2a2a" stroke-width="0.3" textLength="9.13" lengthAdjust="spacingAndGlyphs">10</text>
<text x="516.74" y="294.10" font-size="5.76" fill="#2a2a2a" stroke="#2a2a2a" stroke-width="0.3">1</text>
<line x1="383.56" y1="284.60" x2="383.56" y2="286.00" stroke="#1e1e1e" stroke-width="0.7" />
<line x1="384.96" y1="284.60" x2="384.96" y2="286.00" stroke="#1e1e1e" stroke-width="0.7" />
<line x1="386.15" y1="284.60" x2="386.15" y2="286.00" stroke="#1e1e1e" stroke-width="0.7" />
<line x1="387.18" y1="284.60" x2="387.18" y2="286.00" stroke="#1e1e1e" stroke-width="0.7" />
<line x1="388.09" y1="284.60" x2="388.09" y2="286.00" stroke="#1e1e1e" stroke-width="0.7" />
<text x="447.50" y="310.50" font-size="8.4" text-anchor="middle" fill="#2a2a2a" stroke="#2a2a2a" stroke-width="0.5" font-weight="normal" textLength="90.4" lengthAdjust="spacingAndGlyphs">Antibody concentration (ug/ml)</text>
<polyline points="388.90,269.97 389.79,269.97 390.67,269.96 391.56,269.96 392.45,269.95 393.34,269.94 394.22,269.94 395.11,269.93 396.00,269.92 396.89,269.91 397.77,269.90 398.66,269.89 399.55,269.88 400.44,269.87 401.32,269.86 402.21,269.84 403.10,269.83 403.99,269.81 404.88,269.79 405.76,269.77 406.65,269.75 407.54,269.72 408.42,269.70 409.31,269.67 410.20,269.64 411.09,269.61 411.97,269.57 412.86,269.53 413.75,269.49 414.64,269.45 415.52,269.40 416.41,269.35 417.30,269.29 418.19,269.23 419.07,269.16 419.96,269.09 420.85,269.01 421.74,268.93 422.62,268.83 423.51,268.74 424.40,268.63 425.29,268.51 426.17,268.39 427.06,268.26 427.95,268.11 428.84,267.96 429.72,267.79 430.61,267.61 431.50,267.41 432.39,267.20 433.27,266.98 434.16,266.74 435.05,266.48 435.94,266.20 436.82,265.90 437.71,265.59 438.60,265.25 439.49,264.88 440.38,264.50 441.26,264.08 442.15,263.65 443.04,263.18 443.92,262.69 444.81,262.17 445.70,261.61 446.59,261.03 447.47,260.42 448.36,259.78 449.25,259.11 450.14,258.40 451.02,257.67 451.91,256.91 452.80,256.11 453.69,255.29 454.57,254.45 455.46,253.57 456.35,252.68 457.24,251.76 458.12,250.83 459.01,249.88 459.90,248.92 460.79,247.95 461.67,246.97 462.56,245.99 463.45,245.01 464.34,244.03 465.22,243.06 466.11,242.09 467.00,241.14 467.89,240.21 468.77,239.29 469.66,238.39 470.55,237.52 471.44,236.67 472.32,235.85 473.21,235.05 474.10,234.28 474.99,233.55 475.88,232.84 476.76,232.16 477.65,231.51 478.54,230.90 479.42,230.31 480.31,229.76 481.20,229.23 482.09,228.74 482.97,228.27 483.86,227.83 484.75,227.41 485.64,227.02 486.52,226.66 487.41,226.32 488.30,226.00 489.19,225.70 490.07,225.42 490.96,225.15 491.85,224.91 492.74,224.68 493.62,224.47 494.51,224.28 495.40,224.10" fill="none" stroke="#46a846" stroke-width="1.15" stroke-linejoin="round" stroke-dasharray="2.8,2.2"/>
<polyline points="388.90,268.67 389.79,268.64 390.67,268.61 391.56,268.58 392.45,268.55 393.34,268.52 394.22,268.48 395.11,268.44 396.00,268.39 396.89,268.35 397.77,268.29 398.66,268.24 399.55,268.18 400.44,268.11 401.32,268.04 402.21,267.96 403.10,267.88 403.99,267.79 404.88,267.69 405.76,267.58 406.65,267.46 407.54,267.34 408.42,267.20 409.31,267.06 410.20,266.90 411.09,266.73 411.97,266.54 412.86,266.35 413.75,266.13 414.64,265.90 415.52,265.65 416.41,265.38 417.30,265.09 418.19,264.78 419.07,264.44 419.96,264.08 420.85,263.69 421.74,263.27 422.62,262.82 423.51,262.34 424.40,261.83 425.29,261.28 426.17,260.69 427.06,260.06 427.95,259.39 428.84,258.68 429.72,257.92 430.61,257.12 431.50,256.26 432.39,255.36 433.27,254.41 434.16,253.40 435.05,252.34 435.94,251.23 436.82,250.07 437.71,248.85 438.60,247.58 439.49,246.26 440.38,244.89 441.26,243.47 442.15,242.00 443.04,240.49 443.92,238.95 444.81,237.36 445.70,235.75 446.59,234.11 447.47,232.44 448.36,230.76 449.25,229.07 450.14,227.37 451.02,225.67 451.91,223.98 452.80,222.30 453.69,220.63 454.57,218.98 455.46,217.37 456.35,215.78 457.24,214.23 458.12,212.71 459.01,211.24 459.90,209.82 460.79,208.44 461.67,207.11 462.56,205.84 463.45,204.61 464.34,203.44 465.22,202.32 466.11,201.26 467.00,200.25 467.89,199.29 468.77,198.38 469.66,197.52 470.55,196.71 471.44,195.94 472.32,195.23 473.21,194.55 474.10,193.92 474.99,193.33 475.88,192.77 476.76,192.25 477.65,191.77 478.54,191.32 479.42,190.90 480.31,190.50 481.20,190.14 482.09,189.80 482.97,189.48 483.86,189.19 484.75,188.92 485.64,188.67 486.52,188.43 487.41,188.22 488.30,188.01 489.19,187.83 490.07,187.66 490.96,187.50 491.85,187.35 492.74,187.21 493.62,187.09 494.51,186.97 495.40,186.86" fill="none" stroke="#224884" stroke-width="1.15" stroke-linejoin="round" />
<polyline points="388.90,267.08 389.79,267.00 390.67,266.90 391.56,266.80 392.45,266.69 393.34,266.57 394.22,266.44 395.11,266.29 396.00,266.13 396.89,265.96 397.77,265.77 398.66,265.56 399.55,265.33 400.44,265.09 401.32,264.82 402.21,264.53 403.10,264.21 403.99,263.86 404.88,263.48 405.76,263.07 406.65,262.63 407.54,262.15 408.42,261.63 409.31,261.06 410.20,260.46 411.09,259.80 411.97,259.10 412.86,258.34 413.75,257.52 414.64,256.65 415.52,255.72 416.41,254.73 417.30,253.67 418.19,252.55 419.07,251.37 419.96,250.12 420.85,248.80 421.74,247.42 422.62,245.98 423.51,244.47 424.40,242.91 425.29,241.30 426.17,239.63 427.06,237.92 427.95,236.17 428.84,234.39 429.72,232.59 430.61,230.76 431.50,228.93 432.39,227.10 433.27,225.27 434.16,223.45 435.05,221.66 435.94,219.89 436.82,218.16 437.71,216.47 438.60,214.83 439.49,213.24 440.38,211.70 441.26,210.23 442.15,208.81 443.04,207.46 443.92,206.18 444.81,204.96 445.70,203.81 446.59,202.72 447.47,201.69 448.36,200.73 449.25,199.83 450.14,198.98 451.02,198.20 451.91,197.46 452.80,196.78 453.69,196.15 454.57,195.57 455.46,195.02 456.35,194.52 457.24,194.06 458.12,193.63 459.01,193.24 459.90,192.88 460.79,192.54 461.67,192.24 462.56,191.96 463.45,191.70 464.34,191.46 465.22,191.24 466.11,191.04 467.00,190.86 467.89,190.70 468.77,190.54 469.66,190.40 470.55,190.28 471.44,190.16 472.32,190.05 473.21,189.96 474.10,189.87 474.99,189.79 475.88,189.71 476.76,189.64 477.65,189.58 478.54,189.53 479.42,189.47 480.31,189.43 481.20,189.38 482.09,189.35 482.97,189.31 483.86,189.28 484.75,189.25 485.64,189.22 486.52,189.20 487.41,189.17 488.30,189.15 489.19,189.13 490.07,189.12 490.96,189.10 491.85,189.09 492.74,189.07 493.62,189.06 494.51,189.05 495.40,189.04" fill="none" stroke="#c3163c" stroke-width="1.15" stroke-linejoin="round" />
<line x1="364.20" y1="268.50" x2="372.00" y2="268.50" stroke="#3b3050" stroke-width="1.0" />
<line x1="380.20" y1="268.30" x2="388.90" y2="268.30" stroke="#3b3050" stroke-width="1.0" />
<circle cx="388.90" cy="269.44" r="2.0240000000000005" fill="#2f8f2f"/>
<circle cx="406.65" cy="268.62" r="2.0240000000000005" fill="#2f8f2f"/>
<circle cx="424.40" cy="269.54" r="2.0240000000000005" fill="#2f8f2f"/>
<circle cx="442.15" cy="265.45" r="2.0240000000000005" fill="#2f8f2f"/>
<circle cx="459.90" cy="246.86" r="2.0240000000000005" fill="#2f8f2f"/>
<circle cx="477.65" cy="233.58" r="2.0240000000000005" fill="#2f8f2f"/>
<circle cx="495.40" cy="223.06" r="2.0240000000000005" fill="#2f8f2f"/>
<line x1="477.65" y1="190.27" x2="477.65" y2="196.70" stroke="#173f76" stroke-width="1.15" />
<line x1="475.95" y1="190.27" x2="479.35" y2="190.27" stroke="#173f76" stroke-width="1.15" />
<line x1="475.95" y1="196.70" x2="479.35" y2="196.70" stroke="#173f76" stroke-width="1.15" />
<rect x="386.88" y="266.39" width="4.05" height="4.05" fill="#173f76"/>
<rect x="404.63" y="263.73" width="4.05" height="4.05" fill="#173f76"/>
<rect x="422.38" y="262.92" width="4.05" height="4.05" fill="#173f76"/>
<rect x="440.13" y="238.30" width="4.05" height="4.05" fill="#173f76"/>
<rect x="457.88" y="208.37" width="4.05" height="4.05" fill="#173f76"/>
<rect x="475.63" y="190.49" width="4.05" height="4.05" fill="#173f76"/>
<rect x="493.38" y="184.06" width="4.05" height="4.05" fill="#173f76"/>
<line x1="477.65" y1="185.88" x2="477.65" y2="192.31" stroke="#c8102e" stroke-width="1.15" />
<line x1="475.95" y1="185.88" x2="479.35" y2="185.88" stroke="#c8102e" stroke-width="1.15" />
<line x1="475.95" y1="192.31" x2="479.35" y2="192.31" stroke="#c8102e" stroke-width="1.15" />
<circle cx="388.90" cy="268.01" r="2.156" fill="#c8102e"/>
<circle cx="406.65" cy="261.26" r="2.156" fill="#c8102e"/>
<circle cx="424.40" cy="243.59" r="2.156" fill="#c8102e"/>
<circle cx="442.15" cy="208.35" r="2.156" fill="#c8102e"/>
<circle cx="459.90" cy="193.03" r="2.156" fill="#c8102e"/>
<circle cx="477.65" cy="189.45" r="2.156" fill="#c8102e"/>
<circle cx="495.40" cy="189.15" r="2.156" fill="#c8102e"/>
<circle cx="364.20" cy="268.50" r="2.156" fill="#c8102e"/>
<polygon points="493.00,270.57 497.80,270.57 495.40,266.25" fill="#3b2450"/>
<line x1="356.60" y1="184.40" x2="368.50" y2="184.40" stroke="#a8183a" stroke-width="1.2" />
<circle cx="362.60" cy="184.40" r="1.9800000000000002" fill="#c8102e"/>
<text x="371.50" y="187.50" font-size="7.3" text-anchor="start" fill="#2a2a2a" stroke="#2a2a2a" stroke-width="0.3" font-weight="normal"  >H90-AF</text>
<line x1="356.60" y1="196.20" x2="368.50" y2="196.20" stroke="#46a846" stroke-width="1.2" stroke-dasharray="2,2.2"/>
<circle cx="362.60" cy="196.20" r="1.9800000000000002" fill="#2f8f2f"/>
<text x="371.50" y="199.30" font-size="7.3" text-anchor="start" fill="#2a2a2a" stroke="#2a2a2a" stroke-width="0.3" font-weight="normal"  >H90-5</text>
<line x1="356.60" y1="207.50" x2="368.50" y2="207.50" stroke="#224884" stroke-width="1.2" />
<rect x="360.62" y="205.52" width="3.96" height="3.96" fill="#173f76"/>
<text x="371.5" y="210.60" font-size="7.3" fill="#2a2a2a" stroke="#2a2a2a" stroke-width="0.3" textLength="30.6" lengthAdjust="spacingAndGlyphs">Rituximab</text>
<line x1="356.60" y1="219.00" x2="368.50" y2="219.00" stroke="#8a7890" stroke-width="1.2" />
<polygon points="360.44,220.94 364.76,220.94 362.60,217.06" fill="#3b2450"/>
<text x="371.50" y="222.10" font-size="7.3" text-anchor="start" fill="#2a2a2a" stroke="#2a2a2a" stroke-width="0.3" font-weight="normal"  >IgG1</text>
<text x="1.60" y="335.00" font-size="10.5" text-anchor="start" fill="#111" stroke="#111" stroke-width="0.3" font-weight="bold"  >D</text>
<line x1="28.90" y1="346.40" x2="28.90" y2="432.60" stroke="#1e1e1e" stroke-width="1.15" />
<line x1="26.20" y1="430.30" x2="28.90" y2="430.30" stroke="#1e1e1e" stroke-width="0.9" />
<text x="23.20" y="432.90" font-size="7.4" text-anchor="end" fill="#2a2a2a" stroke="#2a2a2a" stroke-width="0.3" font-weight="normal" textLength="4.53" lengthAdjust="spacingAndGlyphs" >0</text>
<line x1="26.20" y1="416.64" x2="28.90" y2="416.64" stroke="#1e1e1e" stroke-width="0.9" />
<text x="23.20" y="419.24" font-size="7.4" text-anchor="end" fill="#2a2a2a" stroke="#2a2a2a" stroke-width="0.3" font-weight="normal" textLength="9.05" lengthAdjust="spacingAndGlyphs" >10</text>
<line x1="26.20" y1="402.98" x2="28.90" y2="402.98" stroke="#1e1e1e" stroke-width="0.9" />
<text x="23.20" y="405.58" font-size="7.4" text-anchor="end" fill="#2a2a2a" stroke="#2a2a2a" stroke-width="0.3" font-weight="normal" textLength="9.05" lengthAdjust="spacingAndGlyphs" >20</text>
<line x1="26.20" y1="389.32" x2="28.90" y2="389.32" stroke="#1e1e1e" stroke-width="0.9" />
<text x="23.20" y="391.92" font-size="7.4" text-anchor="end" fill="#2a2a2a" stroke="#2a2a2a" stroke-width="0.3" font-weight="normal" textLength="9.05" lengthAdjust="spacingAndGlyphs" >30</text>
<line x1="26.20" y1="375.66" x2="28.90" y2="375.66" stroke="#1e1e1e" stroke-width="0.9" />
<text x="23.20" y="378.26" font-size="7.4" text-anchor="end" fill="#2a2a2a" stroke="#2a2a2a" stroke-width="0.3" font-weight="normal" textLength="9.05" lengthAdjust="spacingAndGlyphs" >40</text>
<line x1="26.20" y1="362.00" x2="28.90" y2="362.00" stroke="#1e1e1e" stroke-width="0.9" />
<text x="23.20" y="364.60" font-size="7.4" text-anchor="end" fill="#2a2a2a" stroke="#2a2a2a" stroke-width="0.3" font-weight="normal" textLength="9.05" lengthAdjust="spacingAndGlyphs" >50</text>
<line x1="26.20" y1="348.34" x2="28.90" y2="348.34" stroke="#1e1e1e" stroke-width="0.9" />
<text x="23.20" y="350.94" font-size="7.4" text-anchor="end" fill="#2a2a2a" stroke="#2a2a2a" stroke-width="0.3" font-weight="normal" textLength="9.05" lengthAdjust="spacingAndGlyphs" >60</text>
<line x1="31.00" y1="430.50" x2="164.00" y2="430.50" stroke="#444" stroke-width="1.0" stroke-dasharray="1.2,2.2"/>
<line x1="43.80" y1="439.30" x2="166.30" y2="439.30" stroke="#1e1e1e" stroke-width="1.1" />
<line x1="45.40" y1="439.30" x2="45.40" y2="442.30" stroke="#1e1e1e" stroke-width="0.9" />
<text x="38.12" y="454.20" font-size="7.0" fill="#2a2a2a" stroke="#2a2a2a" stroke-width="0.3" textLength="8.88" lengthAdjust="spacingAndGlyphs">10</text>
<text x="47.35" y="451.00" font-size="5.60" fill="#2a2a2a" stroke="#2a2a2a" stroke-width="0.3">–6</text>
<line x1="62.13" y1="439.30" x2="62.13" y2="442.30" stroke="#1e1e1e" stroke-width="0.9" />
<text x="54.85" y="454.20" font-size="7.0" fill="#2a2a2a" stroke="#2a2a2a" stroke-width="0.3" textLength="8.88" lengthAdjust="spacingAndGlyphs">10</text>
<text x="64.08" y="451.00" font-size="5.60" fill="#2a2a2a" stroke="#2a2a2a" stroke-width="0.3">–5</text>
<line x1="78.86" y1="439.30" x2="78.86" y2="442.30" stroke="#1e1e1e" stroke-width="0.9" />
<text x="71.58" y="454.20" font-size="7.0" fill="#2a2a2a" stroke="#2a2a2a" stroke-width="0.3" textLength="8.88" lengthAdjust="spacingAndGlyphs">10</text>
<text x="80.81" y="451.00" font-size="5.60" fill="#2a2a2a" stroke="#2a2a2a" stroke-width="0.3">–4</text>
<line x1="95.59" y1="439.30" x2="95.59" y2="442.30" stroke="#1e1e1e" stroke-width="0.9" />
<text x="88.31" y="454.20" font-size="7.0" fill="#2a2a2a" stroke="#2a2a2a" stroke-width="0.3" textLength="8.88" lengthAdjust="spacingAndGlyphs">10</text>
<text x="97.54" y="451.00" font-size="5.60" fill="#2a2a2a" stroke="#2a2a2a" stroke-width="0.3">–3</text>
<line x1="112.32" y1="439.30" x2="112.32" y2="442.30" stroke="#1e1e1e" stroke-width="0.9" />
<text x="105.04" y="454.20" font-size="7.0" fill="#2a2a2a" stroke="#2a2a2a" stroke-width="0.3" textLength="8.88" lengthAdjust="spacingAndGlyphs">10</text>
<text x="114.27" y="451.00" font-size="5.60" fill="#2a2a2a" stroke="#2a2a2a" stroke-width="0.3">–2</text>
<line x1="129.05" y1="439.30" x2="129.05" y2="442.30" stroke="#1e1e1e" stroke-width="0.9" />
<text x="121.77" y="454.20" font-size="7.0" fill="#2a2a2a" stroke="#2a2a2a" stroke-width="0.3" textLength="8.88" lengthAdjust="spacingAndGlyphs">10</text>
<text x="131.00" y="451.00" font-size="5.60" fill="#2a2a2a" stroke="#2a2a2a" stroke-width="0.3">–1</text>
<line x1="145.78" y1="439.30" x2="145.78" y2="442.30" stroke="#1e1e1e" stroke-width="0.9" />
<text x="140.06" y="454.20" font-size="7.0" fill="#2a2a2a" stroke="#2a2a2a" stroke-width="0.3" textLength="8.88" lengthAdjust="spacingAndGlyphs">10</text>
<text x="149.29" y="451.00" font-size="5.60" fill="#2a2a2a" stroke="#2a2a2a" stroke-width="0.3">0</text>
<line x1="162.51" y1="439.30" x2="162.51" y2="442.30" stroke="#1e1e1e" stroke-width="0.9" />
<text x="156.79" y="454.20" font-size="7.0" fill="#2a2a2a" stroke="#2a2a2a" stroke-width="0.3" textLength="8.88" lengthAdjust="spacingAndGlyphs">10</text>
<text x="166.02" y="451.00" font-size="5.60" fill="#2a2a2a" stroke="#2a2a2a" stroke-width="0.3">1</text>
<text x="104.60" y="464.80" font-size="8.4" text-anchor="middle" fill="#2a2a2a" stroke="#2a2a2a" stroke-width="0.5" font-weight="normal" textLength="90.8" lengthAdjust="spacingAndGlyphs">Antibody concentration (ug/ml)</text>
<text transform="translate(6.40,387.70) rotate(-90)" x="0" y="0" font-size="7.8" text-anchor="middle" fill="#2a2a2a" stroke="#2a2a2a" stroke-width="0.5" font-weight="normal" textLength="40.0" lengthAdjust="spacingAndGlyphs">% Cytotoxicity</text>
<text x="104.15" y="334.60" font-size="9.2" text-anchor="middle" fill="#2a2a2a" stroke="#2a2a2a" stroke-width="0.3" font-weight="normal" textLength="25.2" lengthAdjust="spacingAndGlyphs">Jeko-1</text>
<polyline points="45.40,429.42 46.38,429.40 47.35,429.39 48.33,429.37 49.30,429.35 50.28,429.33 51.26,429.30 52.23,429.26 53.21,429.22 54.18,429.17 55.16,429.11 56.14,429.04 57.11,428.96 58.09,428.86 59.06,428.74 60.04,428.60 61.01,428.43 61.99,428.24 62.97,428.00 63.94,427.73 64.92,427.40 65.89,427.02 66.87,426.57 67.85,426.04 68.82,425.41 69.80,424.68 70.77,423.83 71.75,422.85 72.73,421.71 73.70,420.40 74.68,418.90 75.65,417.20 76.63,415.28 77.61,413.14 78.58,410.76 79.56,408.16 80.53,405.35 81.51,402.34 82.48,399.17 83.46,395.87 84.44,392.49 85.41,389.08 86.39,385.68 87.36,382.36 88.34,379.15 89.32,376.09 90.29,373.23 91.27,370.57 92.24,368.14 93.22,365.94 94.20,363.96 95.17,362.21 96.15,360.66 97.12,359.30 98.10,358.12 99.08,357.09 100.05,356.21 101.03,355.45 102.00,354.80 102.98,354.25 103.95,353.78 104.93,353.38 105.91,353.04 106.88,352.75 107.86,352.51 108.83,352.30 109.81,352.13 110.79,351.98 111.76,351.86 112.74,351.76 113.71,351.67 114.69,351.60 115.67,351.53 116.64,351.48 117.62,351.44 118.59,351.40 119.57,351.37 120.55,351.34 121.52,351.32 122.50,351.30 123.47,351.29 124.45,351.28 125.43,351.27 126.40,351.26 127.38,351.25 128.35,351.24 129.33,351.24 130.30,351.23 131.28,351.23 132.26,351.23 133.23,351.22 134.21,351.22 135.18,351.22 136.16,351.22 137.14,351.22 138.11,351.21 139.09,351.21 140.06,351.21 141.04,351.21 142.02,351.21 142.99,351.21 143.97,351.21 144.94,351.21 145.92,351.21 146.90,351.21 147.87,351.21 148.85,351.21 149.82,351.21 150.80,351.21 151.77,351.21 152.75,351.21 153.73,351.21 154.70,351.21 155.68,351.21 156.65,351.21 157.63,351.21 158.61,351.21 159.58,351.21 160.56,351.21 161.53,351.21 162.51,351.21" fill="none" stroke="#c3163c" stroke-width="1.15" stroke-linejoin="round" />
<polyline points="45.40,430.59 46.38,430.57 47.35,430.55 48.33,430.53 49.30,430.51 50.28,430.48 51.26,430.46 52.23,430.43 53.21,430.40 54.18,430.37 55.16,430.34 56.14,430.30 57.11,430.27 58.09,430.23 59.06,430.19 60.04,430.14 61.01,430.09 61.99,430.04 62.97,429.99 63.94,429.94 64.92,429.88 65.89,429.81 66.87,429.75 67.85,429.68 68.82,429.60 69.80,429.52 70.77,429.44 71.75,429.35 72.73,429.25 73.70,429.15 74.68,429.05 75.65,428.93 76.63,428.81 77.61,428.69 78.58,428.55 79.56,428.41 80.53,428.26 81.51,428.10 82.48,427.94 83.46,427.76 84.44,427.57 85.41,427.37 86.39,427.16 87.36,426.94 88.34,426.71 89.32,426.46 90.29,426.21 91.27,425.93 92.24,425.64 93.22,425.34 94.20,425.02 95.17,424.68 96.15,424.33 97.12,423.95 98.10,423.56 99.08,423.15 100.05,422.72 101.03,422.27 102.00,421.79 102.98,421.29 103.95,420.77 104.93,420.23 105.91,419.66 106.88,419.07 107.86,418.45 108.83,417.81 109.81,417.13 110.79,416.44 111.76,415.71 112.74,414.96 113.71,414.18 114.69,413.38 115.67,412.54 116.64,411.68 117.62,410.80 118.59,409.89 119.57,408.95 120.55,407.99 121.52,407.00 122.50,405.99 123.47,404.96 124.45,403.90 125.43,402.83 126.40,401.74 127.38,400.64 128.35,399.52 129.33,398.38 130.30,397.24 131.28,396.08 132.26,394.92 133.23,393.76 134.21,392.59 135.18,391.42 136.16,390.25 137.14,389.09 138.11,387.93 139.09,386.78 140.06,385.64 141.04,384.51 142.02,383.39 142.99,382.29 143.97,381.21 144.94,380.15 145.92,379.10 146.90,378.08 147.87,377.08 148.85,376.10 149.82,375.14 150.80,374.21 151.77,373.31 152.75,372.43 153.73,371.58 154.70,370.76 155.68,369.97 156.65,369.20 157.63,368.46 158.61,367.74 159.58,367.05 160.56,366.39 161.53,365.76 162.51,365.15" fill="none" stroke="#46a846" stroke-width="1.15" stroke-linejoin="round" stroke-dasharray="2.8,2.2"/>
<polyline points="45.40,429.07 46.38,429.07 47.35,429.07 48.33,429.07 49.30,429.07 50.28,429.07 51.26,429.07 52.23,429.07 53.21,429.07 54.18,429.07 55.16,429.07 56.14,429.07 57.11,429.07 58.09,429.07 59.06,429.07 60.04,429.07 61.01,429.07 61.99,429.07 62.97,429.07 63.94,429.07 64.92,429.07 65.89,429.07 66.87,429.07 67.85,429.07 68.82,429.07 69.80,429.07 70.77,429.07 71.75,429.07 72.73,429.07 73.70,429.07 74.68,429.07 75.65,429.07 76.63,429.06 77.61,429.06 78.58,429.06 79.56,429.06 80.53,429.05 81.51,429.05 82.48,429.04 83.46,429.03 84.44,429.02 85.41,429.01 86.39,428.99 87.36,428.97 88.34,428.93 89.32,428.90 90.29,428.84 91.27,428.78 92.24,428.69 93.22,428.59 94.20,428.45 95.17,428.27 96.15,428.04 97.12,427.74 98.10,427.37 99.08,426.88 100.05,426.27 101.03,425.50 102.00,424.53 102.98,423.31 103.95,421.81 104.93,419.96 105.91,417.73 106.88,415.08 107.86,411.98 108.83,408.43 109.81,404.48 110.79,400.20 111.76,395.70 112.74,391.11 113.71,386.59 114.69,382.27 115.67,378.26 116.64,374.66 117.62,371.49 118.59,368.77 119.57,366.48 120.55,364.59 121.52,363.04 122.50,361.78 123.47,360.78 124.45,359.98 125.43,359.35 126.40,358.85 127.38,358.46 128.35,358.15 129.33,357.92 130.30,357.73 131.28,357.58 132.26,357.47 133.23,357.38 134.21,357.32 135.18,357.26 136.16,357.22 137.14,357.19 138.11,357.17 139.09,357.15 140.06,357.13 141.04,357.12 142.02,357.11 142.99,357.11 143.97,357.10 144.94,357.10 145.92,357.09 146.90,357.09 147.87,357.09 148.85,357.09 149.82,357.09 150.80,357.09 151.77,357.08 152.75,357.08 153.73,357.08 154.70,357.08 155.68,357.08 156.65,357.08 157.63,357.08 158.61,357.08 159.58,357.08 160.56,357.08 161.53,357.08 162.51,357.08" fill="none" stroke="#224884" stroke-width="1.15" stroke-linejoin="round" />
<polyline points="45.40,428.52 162.51,427.98" fill="none" stroke="#6f5679" stroke-width="1.0" stroke-linejoin="round" />
<rect x="43.64" y="427.45" width="3.52" height="3.52" fill="#173f76"/>
<rect x="60.37" y="427.45" width="3.52" height="3.52" fill="#173f76"/>
<rect x="77.10" y="427.45" width="3.52" height="3.52" fill="#173f76"/>
<rect x="93.83" y="427.17" width="3.52" height="3.52" fill="#173f76"/>
<rect x="110.56" y="389.34" width="3.52" height="3.52" fill="#173f76"/>
<rect x="127.29" y="353.68" width="3.52" height="3.52" fill="#173f76"/>
<rect x="144.02" y="353.68" width="3.52" height="3.52" fill="#173f76"/>
<rect x="160.75" y="358.46" width="3.52" height="3.52" fill="#173f76"/>
<circle cx="62.13" cy="430.30" r="1.87" fill="#c8102e"/>
<circle cx="78.86" cy="409.26" r="1.87" fill="#c8102e"/>
<circle cx="95.59" cy="363.09" r="1.87" fill="#c8102e"/>
<circle cx="112.32" cy="352.03" r="1.87" fill="#c8102e"/>
<circle cx="129.05" cy="347.66" r="1.87" fill="#c8102e"/>
<circle cx="145.78" cy="350.80" r="1.87" fill="#c8102e"/>
<circle cx="162.51" cy="354.90" r="1.87" fill="#c8102e"/>
<circle cx="62.13" cy="430.30" r="1.804" fill="#2f8f2f"/>
<circle cx="78.86" cy="428.52" r="1.804" fill="#2f8f2f"/>
<circle cx="95.59" cy="426.75" r="1.804" fill="#2f8f2f"/>
<circle cx="112.32" cy="414.86" r="1.804" fill="#2f8f2f"/>
<circle cx="129.05" cy="397.65" r="1.804" fill="#2f8f2f"/>
<circle cx="145.78" cy="380.44" r="1.804" fill="#2f8f2f"/>
<circle cx="162.51" cy="364.60" r="1.804" fill="#2f8f2f"/>
<circle cx="45.40" cy="429.34" r="1.9800000000000002" fill="#c8102e"/>
<polygon points="110.40,428.48 114.24,428.48 112.32,425.02" fill="#3b2450"/>
<polygon points="127.13,431.07 130.97,431.07 129.05,427.62" fill="#3b2450"/>
<polygon points="143.86,430.25 147.70,430.25 145.78,426.80" fill="#3b2450"/>
<polygon points="160.59,431.48 164.43,431.48 162.51,428.03" fill="#3b2450"/>
<line x1="129.05" y1="352.03" x2="129.05" y2="358.45" stroke="#173f76" stroke-width="1.15" />
<line x1="127.45" y1="352.03" x2="130.65" y2="352.03" stroke="#173f76" stroke-width="1.15" />
<line x1="127.45" y1="358.45" x2="130.65" y2="358.45" stroke="#173f76" stroke-width="1.15" />
<line x1="145.78" y1="351.62" x2="145.78" y2="359.27" stroke="#173f76" stroke-width="1.15" />
<line x1="144.18" y1="351.62" x2="147.38" y2="351.62" stroke="#173f76" stroke-width="1.15" />
<line x1="144.18" y1="359.27" x2="147.38" y2="359.27" stroke="#173f76" stroke-width="1.15" />
<line x1="162.51" y1="357.36" x2="162.51" y2="363.37" stroke="#173f76" stroke-width="1.15" />
<line x1="160.91" y1="357.36" x2="164.11" y2="357.36" stroke="#173f76" stroke-width="1.15" />
<line x1="160.91" y1="363.37" x2="164.11" y2="363.37" stroke="#173f76" stroke-width="1.15" />
<line x1="162.51" y1="362.00" x2="162.51" y2="367.19" stroke="#2f8f2f" stroke-width="1.15" />
<line x1="160.91" y1="362.00" x2="164.11" y2="362.00" stroke="#2f8f2f" stroke-width="1.15" />
<line x1="160.91" y1="367.19" x2="164.11" y2="367.19" stroke="#2f8f2f" stroke-width="1.15" />
<line x1="162.51" y1="352.44" x2="162.51" y2="357.63" stroke="#c8102e" stroke-width="1.15" />
<line x1="160.91" y1="352.44" x2="164.11" y2="352.44" stroke="#c8102e" stroke-width="1.15" />
<line x1="160.91" y1="357.63" x2="164.11" y2="357.63" stroke="#c8102e" stroke-width="1.15" />
<line x1="78.86" y1="405.71" x2="78.86" y2="412.54" stroke="#c8102e" stroke-width="1.15" />
<line x1="77.26" y1="405.71" x2="80.46" y2="405.71" stroke="#c8102e" stroke-width="1.15" />
<line x1="77.26" y1="412.54" x2="80.46" y2="412.54" stroke="#c8102e" stroke-width="1.15" />
<line x1="95.59" y1="359.95" x2="95.59" y2="366.78" stroke="#c8102e" stroke-width="1.15" />
<line x1="93.99" y1="359.95" x2="97.19" y2="359.95" stroke="#c8102e" stroke-width="1.15" />
<line x1="93.99" y1="366.78" x2="97.19" y2="366.78" stroke="#c8102e" stroke-width="1.15" />
<line x1="112.32" y1="347.93" x2="112.32" y2="356.13" stroke="#c8102e" stroke-width="1.15" />
<line x1="110.72" y1="347.93" x2="113.92" y2="347.93" stroke="#c8102e" stroke-width="1.15" />
<line x1="110.72" y1="356.13" x2="113.92" y2="356.13" stroke="#c8102e" stroke-width="1.15" />
<line x1="129.05" y1="344.24" x2="129.05" y2="351.07" stroke="#c8102e" stroke-width="1.15" />
<line x1="127.45" y1="344.24" x2="130.65" y2="344.24" stroke="#c8102e" stroke-width="1.15" />
<line x1="127.45" y1="351.07" x2="130.65" y2="351.07" stroke="#c8102e" stroke-width="1.15" />
<line x1="145.78" y1="347.66" x2="145.78" y2="353.80" stroke="#c8102e" stroke-width="1.15" />
<line x1="144.18" y1="347.66" x2="147.38" y2="347.66" stroke="#c8102e" stroke-width="1.15" />
<line x1="144.18" y1="353.80" x2="147.38" y2="353.80" stroke="#c8102e" stroke-width="1.15" />
<line x1="36.80" y1="350.20" x2="46.80" y2="350.20" stroke="#a8183a" stroke-width="1.2" />
<circle cx="41.80" cy="350.20" r="1.7160000000000002" fill="#c8102e"/>
<text x="49.80" y="352.70" font-size="7.2" text-anchor="start" fill="#2a2a2a" stroke="#2a2a2a" stroke-width="0.3" font-weight="normal"  >H90-AF</text>
<line x1="36.80" y1="359.70" x2="46.80" y2="359.70" stroke="#46a846" stroke-width="1.2" stroke-dasharray="2,2.2"/>
<circle cx="41.80" cy="359.70" r="1.7160000000000002" fill="#2f8f2f"/>
<text x="49.80" y="362.20" font-size="7.2" text-anchor="start" fill="#2a2a2a" stroke="#2a2a2a" stroke-width="0.3" font-weight="normal"  >H90-5</text>
<line x1="36.80" y1="368.90" x2="46.80" y2="368.90" stroke="#224884" stroke-width="1.2" />
<rect x="40.08" y="367.18" width="3.43" height="3.43" fill="#173f76"/>
<text x="49.8" y="371.40" font-size="7.2" fill="#2a2a2a" stroke="#2a2a2a" stroke-width="0.3" textLength="29.6" lengthAdjust="spacingAndGlyphs">Rituximab</text>
<line x1="36.80" y1="378.30" x2="46.80" y2="378.30" stroke="#4e3460" stroke-width="1.2" />
<polygon points="39.93,379.98 43.67,379.98 41.80,376.62" fill="#3b2450"/>
<text x="49.80" y="380.80" font-size="7.2" text-anchor="start" fill="#2a2a2a" stroke="#2a2a2a" stroke-width="0.3" font-weight="normal"  >IgG1</text>
<line x1="202.80" y1="346.00" x2="202.80" y2="432.80" stroke="#1e1e1e" stroke-width="1.15" />
<line x1="200.10" y1="430.60" x2="202.80" y2="430.60" stroke="#1e1e1e" stroke-width="0.9" />
<text x="197.00" y="433.20" font-size="7.4" text-anchor="end" fill="#2a2a2a" stroke="#2a2a2a" stroke-width="0.3" font-weight="normal" textLength="4.53" lengthAdjust="spacingAndGlyphs" >0</text>
<line x1="200.10" y1="416.94" x2="202.80" y2="416.94" stroke="#1e1e1e" stroke-width="0.9" />
<text x="197.00" y="419.54" font-size="7.4" text-anchor="end" fill="#2a2a2a" stroke="#2a2a2a" stroke-width="0.3" font-weight="normal" textLength="9.05" lengthAdjust="spacingAndGlyphs" >10</text>
<line x1="200.10" y1="403.28" x2="202.80" y2="403.28" stroke="#1e1e1e" stroke-width="0.9" />
<text x="197.00" y="405.88" font-size="7.4" text-anchor="end" fill="#2a2a2a" stroke="#2a2a2a" stroke-width="0.3" font-weight="normal" textLength="9.05" lengthAdjust="spacingAndGlyphs" >20</text>
<line x1="200.10" y1="389.62" x2="202.80" y2="389.62" stroke="#1e1e1e" stroke-width="0.9" />
<text x="197.00" y="392.22" font-size="7.4" text-anchor="end" fill="#2a2a2a" stroke="#2a2a2a" stroke-width="0.3" font-weight="normal" textLength="9.05" lengthAdjust="spacingAndGlyphs" >30</text>
<line x1="200.10" y1="375.96" x2="202.80" y2="375.96" stroke="#1e1e1e" stroke-width="0.9" />
<text x="197.00" y="378.56" font-size="7.4" text-anchor="end" fill="#2a2a2a" stroke="#2a2a2a" stroke-width="0.3" font-weight="normal" textLength="9.05" lengthAdjust="spacingAndGlyphs" >40</text>
<line x1="200.10" y1="362.30" x2="202.80" y2="362.30" stroke="#1e1e1e" stroke-width="0.9" />
<text x="197.00" y="364.90" font-size="7.4" text-anchor="end" fill="#2a2a2a" stroke="#2a2a2a" stroke-width="0.3" font-weight="normal" textLength="9.05" lengthAdjust="spacingAndGlyphs" >50</text>
<line x1="200.10" y1="348.64" x2="202.80" y2="348.64" stroke="#1e1e1e" stroke-width="0.9" />
<text x="197.00" y="351.24" font-size="7.4" text-anchor="end" fill="#2a2a2a" stroke="#2a2a2a" stroke-width="0.3" font-weight="normal" textLength="9.05" lengthAdjust="spacingAndGlyphs" >60</text>
<line x1="205.00" y1="430.70" x2="338.00" y2="430.70" stroke="#444" stroke-width="1.0" stroke-dasharray="1.2,2.2"/>
<line x1="218.00" y1="440.00" x2="340.20" y2="440.00" stroke="#1e1e1e" stroke-width="1.1" />
<line x1="219.80" y1="440.00" x2="219.80" y2="443.00" stroke="#1e1e1e" stroke-width="0.9" />
<text x="212.52" y="454.20" font-size="7.0" fill="#2a2a2a" stroke="#2a2a2a" stroke-width="0.3" textLength="8.88" lengthAdjust="spacingAndGlyphs">10</text>
<text x="221.75" y="451.00" font-size="5.60" fill="#2a2a2a" stroke="#2a2a2a" stroke-width="0.3">–6</text>
<line x1="236.52" y1="440.00" x2="236.52" y2="443.00" stroke="#1e1e1e" stroke-width="0.9" />
<text x="229.24" y="454.20" font-size="7.0" fill="#2a2a2a" stroke="#2a2a2a" stroke-width="0.3" textLength="8.88" lengthAdjust="spacingAndGlyphs">10</text>
<text x="238.47" y="451.00" font-size="5.60" fill="#2a2a2a" stroke="#2a2a2a" stroke-width="0.3">–5</text>
<line x1="253.24" y1="440.00" x2="253.24" y2="443.00" stroke="#1e1e1e" stroke-width="0.9" />
<text x="245.96" y="454.20" font-size="7.0" fill="#2a2a2a" stroke="#2a2a2a" stroke-width="0.3" textLength="8.88" lengthAdjust="spacingAndGlyphs">10</text>
<text x="255.19" y="451.00" font-size="5.60" fill="#2a2a2a" stroke="#2a2a2a" stroke-width="0.3">–4</text>
<line x1="269.96" y1="440.00" x2="269.96" y2="443.00" stroke="#1e1e1e" stroke-width="0.9" />
<text x="262.68" y="454.20" font-size="7.0" fill="#2a2a2a" stroke="#2a2a2a" stroke-width="0.3" textLength="8.88" lengthAdjust="spacingAndGlyphs">10</text>
<text x="271.91" y="451.00" font-size="5.60" fill="#2a2a2a" stroke="#2a2a2a" stroke-width="0.3">–3</text>
<line x1="286.68" y1="440.00" x2="286.68" y2="443.00" stroke="#1e1e1e" stroke-width="0.9" />
<text x="279.40" y="454.20" font-size="7.0" fill="#2a2a2a" stroke="#2a2a2a" stroke-width="0.3" textLength="8.88" lengthAdjust="spacingAndGlyphs">10</text>
<text x="288.63" y="451.00" font-size="5.60" fill="#2a2a2a" stroke="#2a2a2a" stroke-width="0.3">–2</text>
<line x1="303.40" y1="440.00" x2="303.40" y2="443.00" stroke="#1e1e1e" stroke-width="0.9" />
<text x="296.12" y="454.20" font-size="7.0" fill="#2a2a2a" stroke="#2a2a2a" stroke-width="0.3" textLength="8.88" lengthAdjust="spacingAndGlyphs">10</text>
<text x="305.35" y="451.00" font-size="5.60" fill="#2a2a2a" stroke="#2a2a2a" stroke-width="0.3">–1</text>
<line x1="320.12" y1="440.00" x2="320.12" y2="443.00" stroke="#1e1e1e" stroke-width="0.9" />
<text x="314.40" y="454.20" font-size="7.0" fill="#2a2a2a" stroke="#2a2a2a" stroke-width="0.3" textLength="8.88" lengthAdjust="spacingAndGlyphs">10</text>
<text x="323.63" y="451.00" font-size="5.60" fill="#2a2a2a" stroke="#2a2a2a" stroke-width="0.3">0</text>
<line x1="336.84" y1="440.00" x2="336.84" y2="443.00" stroke="#1e1e1e" stroke-width="0.9" />
<text x="331.12" y="454.20" font-size="7.0" fill="#2a2a2a" stroke="#2a2a2a" stroke-width="0.3" textLength="8.88" lengthAdjust="spacingAndGlyphs">10</text>
<text x="340.35" y="451.00" font-size="5.60" fill="#2a2a2a" stroke="#2a2a2a" stroke-width="0.3">1</text>
<text x="278.70" y="464.80" font-size="8.4" text-anchor="middle" fill="#2a2a2a" stroke="#2a2a2a" stroke-width="0.5" font-weight="normal" textLength="90.0" lengthAdjust="spacingAndGlyphs">Antibody concentration (ug/ml)</text>
<text transform="translate(180.70,386.50) rotate(-90)" x="0" y="0" font-size="7.8" text-anchor="middle" fill="#2a2a2a" stroke="#2a2a2a" stroke-width="0.5" font-weight="normal" textLength="42.0" lengthAdjust="spacingAndGlyphs">% Cytotoxicity</text>
<text x="278.20" y="334.60" font-size="9.2" text-anchor="middle" fill="#2a2a2a" stroke="#2a2a2a" stroke-width="0.3" font-weight="normal"  >NALM-6</text>
<polyline points="219.80,423.91 236.52,423.91 253.24,424.04 269.96,424.04 286.68,423.36 303.40,421.99 320.12,421.86 336.84,421.72" fill="none" stroke="#6f5679" stroke-width="1.0" stroke-linejoin="round" />
<polyline points="219.80,424.64 220.78,424.62 221.75,424.61 222.73,424.59 223.70,424.57 224.68,424.54 225.65,424.52 226.63,424.49 227.60,424.47 228.58,424.44 229.55,424.40 230.53,424.37 231.50,424.33 232.48,424.29 233.45,424.25 234.43,424.20 235.41,424.16 236.38,424.10 237.36,424.05 238.33,423.98 239.31,423.92 240.28,423.85 241.26,423.77 242.23,423.69 243.21,423.61 244.18,423.52 245.16,423.42 246.13,423.31 247.11,423.20 248.08,423.08 249.06,422.95 250.04,422.81 251.01,422.67 251.99,422.51 252.96,422.34 253.94,422.16 254.91,421.97 255.89,421.77 256.86,421.56 257.84,421.33 258.81,421.09 259.79,420.83 260.76,420.56 261.74,420.28 262.71,419.97 263.69,419.65 264.67,419.32 265.64,418.96 266.62,418.59 267.59,418.20 268.57,417.79 269.54,417.36 270.52,416.91 271.49,416.44 272.47,415.96 273.44,415.45 274.42,414.93 275.39,414.39 276.37,413.83 277.34,413.26 278.32,412.67 279.30,412.06 280.27,411.44 281.25,410.81 282.22,410.17 283.20,409.52 284.17,408.86 285.15,408.20 286.12,407.53 287.10,406.86 288.07,406.19 289.05,405.51 290.02,404.85 291.00,404.18 291.97,403.52 292.95,402.87 293.93,402.23 294.90,401.61 295.88,400.99 296.85,400.39 297.83,399.80 298.80,399.22 299.78,398.67 300.75,398.13 301.73,397.61 302.70,397.11 303.68,396.62 304.65,396.16 305.63,395.71 306.60,395.29 307.58,394.88 308.56,394.49 309.53,394.12 310.51,393.76 311.48,393.43 312.46,393.11 313.43,392.81 314.41,392.52 315.38,392.26 316.36,392.00 317.33,391.76 318.31,391.53 319.28,391.32 320.26,391.12 321.23,390.93 322.21,390.76 323.19,390.59 324.16,390.43 325.14,390.29 326.11,390.15 327.09,390.02 328.06,389.90 329.04,389.79 330.01,389.69 330.99,389.59 331.96,389.50 332.94,389.41 333.91,389.33 334.89,389.26 335.86,389.19 336.84,389.13" fill="none" stroke="#46a846" stroke-width="1.15" stroke-linejoin="round" stroke-dasharray="2.8,2.2"/>
<polyline points="219.80,424.36 220.78,424.36 221.75,424.36 222.73,424.36 223.70,424.36 224.68,424.36 225.65,424.36 226.63,424.36 227.60,424.36 228.58,424.36 229.55,424.36 230.53,424.36 231.50,424.36 232.48,424.36 233.45,424.36 234.43,424.36 235.41,424.36 236.38,424.36 237.36,424.36 238.33,424.36 239.31,424.36 240.28,424.36 241.26,424.36 242.23,424.36 243.21,424.36 244.18,424.35 245.16,424.35 246.13,424.35 247.11,424.35 248.08,424.35 249.06,424.35 250.04,424.35 251.01,424.35 251.99,424.35 252.96,424.35 253.94,424.35 254.91,424.35 255.89,424.34 256.86,424.34 257.84,424.34 258.81,424.34 259.79,424.34 260.76,424.33 261.74,424.33 262.71,424.32 263.69,424.32 264.67,424.31 265.64,424.31 266.62,424.30 267.59,424.29 268.57,424.28 269.54,424.27 270.52,424.26 271.49,424.25 272.47,424.23 273.44,424.21 274.42,424.19 275.39,424.17 276.37,424.14 277.34,424.11 278.32,424.07 279.30,424.03 280.27,423.98 281.25,423.93 282.22,423.87 283.20,423.80 284.17,423.72 285.15,423.63 286.12,423.53 287.10,423.42 288.07,423.29 289.05,423.14 290.02,422.98 291.00,422.79 291.97,422.58 292.95,422.35 293.93,422.10 294.90,421.81 295.88,421.50 296.85,421.16 297.83,420.78 298.80,420.37 299.78,419.93 300.75,419.46 301.73,418.96 302.70,418.43 303.68,417.87 304.65,417.30 305.63,416.70 306.60,416.09 307.58,415.48 308.56,414.86 309.53,414.25 310.51,413.65 311.48,413.06 312.46,412.50 313.43,411.95 314.41,411.43 315.38,410.95 316.36,410.49 317.33,410.07 318.31,409.67 319.28,409.31 320.26,408.99 321.23,408.69 322.21,408.42 323.19,408.17 324.16,407.95 325.14,407.76 326.11,407.58 327.09,407.43 328.06,407.29 329.04,407.17 330.01,407.06 330.99,406.97 331.96,406.88 332.94,406.81 333.91,406.74 334.89,406.69 335.86,406.64 336.84,406.59" fill="none" stroke="#224884" stroke-width="1.15" stroke-linejoin="round" />
<polyline points="219.80,423.75 220.78,423.72 221.75,423.68 222.73,423.64 223.70,423.59 224.68,423.54 225.65,423.48 226.63,423.41 227.60,423.34 228.58,423.26 229.55,423.18 230.53,423.08 231.50,422.98 232.48,422.86 233.45,422.73 234.43,422.59 235.41,422.44 236.38,422.27 237.36,422.08 238.33,421.87 239.31,421.65 240.28,421.40 241.26,421.13 242.23,420.83 243.21,420.51 244.18,420.15 245.16,419.77 246.13,419.35 247.11,418.89 248.08,418.40 249.06,417.86 250.04,417.28 251.01,416.66 251.99,415.99 252.96,415.27 253.94,414.51 254.91,413.69 255.89,412.82 256.86,411.91 257.84,410.94 258.81,409.93 259.79,408.87 260.76,407.77 261.74,406.62 262.71,405.44 263.69,404.23 264.67,402.99 265.64,401.74 266.62,400.47 267.59,399.19 268.57,397.91 269.54,396.63 270.52,395.37 271.49,394.13 272.47,392.91 273.44,391.72 274.42,390.57 275.39,389.45 276.37,388.38 277.34,387.35 278.32,386.37 279.30,385.44 280.27,384.56 281.25,383.73 282.22,382.94 283.20,382.21 284.17,381.53 285.15,380.89 286.12,380.30 287.10,379.75 288.07,379.25 289.05,378.78 290.02,378.35 291.00,377.95 291.97,377.59 292.95,377.26 293.93,376.95 294.90,376.67 295.88,376.42 296.85,376.19 297.83,375.97 298.80,375.78 299.78,375.61 300.75,375.45 301.73,375.30 302.70,375.17 303.68,375.05 304.65,374.94 305.63,374.84 306.60,374.76 307.58,374.67 308.56,374.60 309.53,374.54 310.51,374.48 311.48,374.42 312.46,374.37 313.43,374.33 314.41,374.29 315.38,374.25 316.36,374.22 317.33,374.19 318.31,374.16 319.28,374.14 320.26,374.12 321.23,374.10 322.21,374.08 323.19,374.06 324.16,374.05 325.14,374.03 326.11,374.02 327.09,374.01 328.06,374.00 329.04,373.99 330.01,373.98 330.99,373.98 331.96,373.97 332.94,373.97 333.91,373.96 334.89,373.96 335.86,373.95 336.84,373.95" fill="none" stroke="#c3163c" stroke-width="1.15" stroke-linejoin="round" />
<polygon points="217.88,425.63 221.72,425.63 219.80,422.18" fill="#3b2450"/>
<polygon points="234.60,425.63 238.44,425.63 236.52,422.18" fill="#3b2450"/>
<polygon points="251.32,425.77 255.16,425.77 253.24,422.32" fill="#3b2450"/>
<polygon points="268.04,425.77 271.88,425.77 269.96,422.32" fill="#3b2450"/>
<polygon points="284.76,425.09 288.60,425.09 286.68,421.63" fill="#3b2450"/>
<polygon points="301.48,423.72 305.32,423.72 303.40,420.27" fill="#3b2450"/>
<polygon points="318.20,423.59 322.04,423.59 320.12,420.13" fill="#3b2450"/>
<polygon points="334.92,423.45 338.76,423.45 336.84,419.99" fill="#3b2450"/>
<circle cx="219.80" cy="423.77" r="1.804" fill="#2f8f2f"/>
<circle cx="236.52" cy="423.77" r="1.804" fill="#2f8f2f"/>
<circle cx="253.24" cy="423.36" r="1.804" fill="#2f8f2f"/>
<circle cx="269.96" cy="418.31" r="1.804" fill="#2f8f2f"/>
<circle cx="286.68" cy="405.19" r="1.804" fill="#2f8f2f"/>
<circle cx="303.40" cy="397.68" r="1.804" fill="#2f8f2f"/>
<circle cx="320.12" cy="392.76" r="1.804" fill="#2f8f2f"/>
<circle cx="336.84" cy="387.57" r="1.804" fill="#2f8f2f"/>
<rect x="218.04" y="422.01" width="3.52" height="3.52" fill="#173f76"/>
<rect x="234.76" y="422.01" width="3.52" height="3.52" fill="#173f76"/>
<rect x="251.48" y="423.38" width="3.52" height="3.52" fill="#173f76"/>
<rect x="268.20" y="422.97" width="3.52" height="3.52" fill="#173f76"/>
<rect x="284.92" y="421.60" width="3.52" height="3.52" fill="#173f76"/>
<rect x="301.64" y="416.27" width="3.52" height="3.52" fill="#173f76"/>
<rect x="318.36" y="407.26" width="3.52" height="3.52" fill="#173f76"/>
<rect x="335.08" y="404.80" width="3.52" height="3.52" fill="#173f76"/>
<circle cx="219.80" cy="422.95" r="1.87" fill="#c8102e"/>
<circle cx="236.52" cy="423.22" r="1.87" fill="#c8102e"/>
<circle cx="253.24" cy="414.89" r="1.87" fill="#c8102e"/>
<circle cx="269.96" cy="396.04" r="1.87" fill="#c8102e"/>
<circle cx="286.68" cy="379.92" r="1.87" fill="#c8102e"/>
<circle cx="303.40" cy="375.96" r="1.87" fill="#c8102e"/>
<circle cx="320.12" cy="374.46" r="1.87" fill="#c8102e"/>
<circle cx="336.84" cy="372.95" r="1.87" fill="#c8102e"/>
<line x1="219.80" y1="418.99" x2="219.80" y2="425.82" stroke="#c8102e" stroke-width="1.15" />
<line x1="218.20" y1="418.99" x2="221.40" y2="418.99" stroke="#c8102e" stroke-width="1.15" />
<line x1="218.20" y1="425.82" x2="221.40" y2="425.82" stroke="#c8102e" stroke-width="1.15" />
<line x1="253.24" y1="412.84" x2="253.24" y2="416.94" stroke="#c8102e" stroke-width="1.15" />
<line x1="251.64" y1="412.84" x2="254.84" y2="412.84" stroke="#c8102e" stroke-width="1.15" />
<line x1="251.64" y1="416.94" x2="254.84" y2="416.94" stroke="#c8102e" stroke-width="1.15" />
<line x1="286.68" y1="376.64" x2="286.68" y2="382.79" stroke="#c8102e" stroke-width="1.15" />
<line x1="285.08" y1="376.64" x2="288.28" y2="376.64" stroke="#c8102e" stroke-width="1.15" />
<line x1="285.08" y1="382.79" x2="288.28" y2="382.79" stroke="#c8102e" stroke-width="1.15" />
<line x1="320.12" y1="370.50" x2="320.12" y2="377.87" stroke="#c8102e" stroke-width="1.15" />
<line x1="318.52" y1="370.50" x2="321.72" y2="370.50" stroke="#c8102e" stroke-width="1.15" />
<line x1="318.52" y1="377.87" x2="321.72" y2="377.87" stroke="#c8102e" stroke-width="1.15" />
<line x1="336.84" y1="369.40" x2="336.84" y2="376.23" stroke="#c8102e" stroke-width="1.15" />
<line x1="335.24" y1="369.40" x2="338.44" y2="369.40" stroke="#c8102e" stroke-width="1.15" />
<line x1="335.24" y1="376.23" x2="338.44" y2="376.23" stroke="#c8102e" stroke-width="1.15" />
<line x1="303.40" y1="394.40" x2="303.40" y2="400.82" stroke="#2f8f2f" stroke-width="1.15" />
<line x1="301.80" y1="394.40" x2="305.00" y2="394.40" stroke="#2f8f2f" stroke-width="1.15" />
<line x1="301.80" y1="400.82" x2="305.00" y2="400.82" stroke="#2f8f2f" stroke-width="1.15" />
<line x1="336.84" y1="383.47" x2="336.84" y2="391.67" stroke="#2f8f2f" stroke-width="1.15" />
<line x1="335.24" y1="383.47" x2="338.44" y2="383.47" stroke="#2f8f2f" stroke-width="1.15" />
<line x1="335.24" y1="391.67" x2="338.44" y2="391.67" stroke="#2f8f2f" stroke-width="1.15" />
<line x1="286.68" y1="403.28" x2="286.68" y2="407.10" stroke="#2f8f2f" stroke-width="1.15" />
<line x1="285.08" y1="403.28" x2="288.28" y2="403.28" stroke="#2f8f2f" stroke-width="1.15" />
<line x1="285.08" y1="407.10" x2="288.28" y2="407.10" stroke="#2f8f2f" stroke-width="1.15" />
<line x1="320.12" y1="406.70" x2="320.12" y2="411.20" stroke="#173f76" stroke-width="1.15" />
<line x1="318.52" y1="406.70" x2="321.72" y2="406.70" stroke="#173f76" stroke-width="1.15" />
<line x1="318.52" y1="411.20" x2="321.72" y2="411.20" stroke="#173f76" stroke-width="1.15" />
<line x1="376.90" y1="346.50" x2="376.90" y2="414.60" stroke="#1e1e1e" stroke-width="1.15" />
<line x1="374.30" y1="414.60" x2="380.80" y2="414.60" stroke="#1e1e1e" stroke-width="1.15" />
<line x1="374.20" y1="349.00" x2="376.90" y2="349.00" stroke="#1e1e1e" stroke-width="0.9" />
<text x="371.20" y="351.60" font-size="7.4" text-anchor="end" fill="#2a2a2a" stroke="#2a2a2a" stroke-width="0.3" font-weight="normal" textLength="8.73" lengthAdjust="spacingAndGlyphs" >60</text>
<line x1="374.20" y1="365.40" x2="376.90" y2="365.40" stroke="#1e1e1e" stroke-width="0.9" />
<text x="371.20" y="368.00" font-size="7.4" text-anchor="end" fill="#2a2a2a" stroke="#2a2a2a" stroke-width="0.3" font-weight="normal" textLength="8.73" lengthAdjust="spacingAndGlyphs" >50</text>
<line x1="374.20" y1="381.80" x2="376.90" y2="381.80" stroke="#1e1e1e" stroke-width="0.9" />
<text x="371.20" y="384.40" font-size="7.4" text-anchor="end" fill="#2a2a2a" stroke="#2a2a2a" stroke-width="0.3" font-weight="normal" textLength="8.73" lengthAdjust="spacingAndGlyphs" >40</text>
<line x1="374.20" y1="398.20" x2="376.90" y2="398.20" stroke="#1e1e1e" stroke-width="0.9" />
<text x="371.20" y="400.80" font-size="7.4" text-anchor="end" fill="#2a2a2a" stroke="#2a2a2a" stroke-width="0.3" font-weight="normal" textLength="8.73" lengthAdjust="spacingAndGlyphs" >30</text>
<text x="371.20" y="417.20" font-size="7.4" text-anchor="end" fill="#2a2a2a" stroke="#2a2a2a" stroke-width="0.3" font-weight="normal" textLength="8.73" lengthAdjust="spacingAndGlyphs" >20</text>
<line x1="376.90" y1="421.20" x2="376.90" y2="431.60" stroke="#1e1e1e" stroke-width="1.15" />
<line x1="374.30" y1="421.20" x2="380.80" y2="421.20" stroke="#1e1e1e" stroke-width="1.15" />
<line x1="374.20" y1="430.20" x2="376.90" y2="430.20" stroke="#1e1e1e" stroke-width="0.9" />
<text x="371.20" y="424.20" font-size="7.4" text-anchor="end" fill="#2a2a2a" stroke="#2a2a2a" stroke-width="0.3" font-weight="normal" textLength="8.73" lengthAdjust="spacingAndGlyphs" >20</text>
<text x="371.20" y="432.80" font-size="7.4" text-anchor="end" fill="#2a2a2a" stroke="#2a2a2a" stroke-width="0.3" font-weight="normal" textLength="4.36" lengthAdjust="spacingAndGlyphs" >0</text>
<line x1="379.50" y1="430.20" x2="513.00" y2="430.20" stroke="#444" stroke-width="1.0" stroke-dasharray="1.2,2.2"/>
<line x1="393.50" y1="440.30" x2="516.60" y2="440.30" stroke="#1e1e1e" stroke-width="1.1" />
<line x1="396.30" y1="440.30" x2="396.30" y2="443.30" stroke="#1e1e1e" stroke-width="0.9" />
<text x="389.02" y="454.20" font-size="7.0" fill="#2a2a2a" stroke="#2a2a2a" stroke-width="0.3" textLength="8.88" lengthAdjust="spacingAndGlyphs">10</text>
<text x="398.25" y="451.00" font-size="5.60" fill="#2a2a2a" stroke="#2a2a2a" stroke-width="0.3">–6</text>
<line x1="413.03" y1="440.30" x2="413.03" y2="443.30" stroke="#1e1e1e" stroke-width="0.9" />
<text x="405.75" y="454.20" font-size="7.0" fill="#2a2a2a" stroke="#2a2a2a" stroke-width="0.3" textLength="8.88" lengthAdjust="spacingAndGlyphs">10</text>
<text x="414.98" y="451.00" font-size="5.60" fill="#2a2a2a" stroke="#2a2a2a" stroke-width="0.3">–5</text>
<line x1="429.76" y1="440.30" x2="429.76" y2="443.30" stroke="#1e1e1e" stroke-width="0.9" />
<text x="422.48" y="454.20" font-size="7.0" fill="#2a2a2a" stroke="#2a2a2a" stroke-width="0.3" textLength="8.88" lengthAdjust="spacingAndGlyphs">10</text>
<text x="431.71" y="451.00" font-size="5.60" fill="#2a2a2a" stroke="#2a2a2a" stroke-width="0.3">–4</text>
<line x1="446.49" y1="440.30" x2="446.49" y2="443.30" stroke="#1e1e1e" stroke-width="0.9" />
<text x="439.21" y="454.20" font-size="7.0" fill="#2a2a2a" stroke="#2a2a2a" stroke-width="0.3" textLength="8.88" lengthAdjust="spacingAndGlyphs">10</text>
<text x="448.44" y="451.00" font-size="5.60" fill="#2a2a2a" stroke="#2a2a2a" stroke-width="0.3">–3</text>
<line x1="463.22" y1="440.30" x2="463.22" y2="443.30" stroke="#1e1e1e" stroke-width="0.9" />
<text x="455.94" y="454.20" font-size="7.0" fill="#2a2a2a" stroke="#2a2a2a" stroke-width="0.3" textLength="8.88" lengthAdjust="spacingAndGlyphs">10</text>
<text x="465.17" y="451.00" font-size="5.60" fill="#2a2a2a" stroke="#2a2a2a" stroke-width="0.3">–2</text>
<line x1="479.95" y1="440.30" x2="479.95" y2="443.30" stroke="#1e1e1e" stroke-width="0.9" />
<text x="472.67" y="454.20" font-size="7.0" fill="#2a2a2a" stroke="#2a2a2a" stroke-width="0.3" textLength="8.88" lengthAdjust="spacingAndGlyphs">10</text>
<text x="481.90" y="451.00" font-size="5.60" fill="#2a2a2a" stroke="#2a2a2a" stroke-width="0.3">–1</text>
<line x1="496.68" y1="440.30" x2="496.68" y2="443.30" stroke="#1e1e1e" stroke-width="0.9" />
<text x="490.96" y="454.20" font-size="7.0" fill="#2a2a2a" stroke="#2a2a2a" stroke-width="0.3" textLength="8.88" lengthAdjust="spacingAndGlyphs">10</text>
<text x="500.19" y="451.00" font-size="5.60" fill="#2a2a2a" stroke="#2a2a2a" stroke-width="0.3">0</text>
<line x1="513.41" y1="440.30" x2="513.41" y2="443.30" stroke="#1e1e1e" stroke-width="0.9" />
<text x="507.69" y="454.20" font-size="7.0" fill="#2a2a2a" stroke="#2a2a2a" stroke-width="0.3" textLength="8.88" lengthAdjust="spacingAndGlyphs">10</text>
<text x="516.92" y="451.00" font-size="5.60" fill="#2a2a2a" stroke="#2a2a2a" stroke-width="0.3">1</text>
<text x="455.00" y="464.80" font-size="8.4" text-anchor="middle" fill="#2a2a2a" stroke="#2a2a2a" stroke-width="0.5" font-weight="normal" textLength="90.0" lengthAdjust="spacingAndGlyphs">Antibody concentration (ug/ml)</text>
<text transform="translate(355.90,381.80) rotate(-90)" x="0" y="0" font-size="7.8" text-anchor="middle" fill="#2a2a2a" stroke="#2a2a2a" stroke-width="0.5" font-weight="normal" textLength="41.5" lengthAdjust="spacingAndGlyphs">% Cytotoxicity</text>
<text x="446.20" y="334.90" font-size="9.3" text-anchor="middle" fill="#2a2a2a" stroke="#2a2a2a" stroke-width="0.3" font-weight="normal" textLength="23.4" lengthAdjust="spacingAndGlyphs">Z138</text>
<polyline points="394.60,400.50 511.71,402.63" fill="none" stroke="#6f5679" stroke-width="1.0" stroke-linejoin="round" />
<polyline points="394.60,396.89 395.58,396.89 396.55,396.89 397.53,396.89 398.50,396.89 399.48,396.89 400.46,396.89 401.43,396.89 402.41,396.89 403.38,396.89 404.36,396.89 405.34,396.89 406.31,396.89 407.29,396.89 408.26,396.89 409.24,396.89 410.21,396.89 411.19,396.89 412.17,396.89 413.14,396.89 414.12,396.89 415.09,396.89 416.07,396.89 417.05,396.89 418.02,396.89 419.00,396.89 419.97,396.89 420.95,396.89 421.93,396.89 422.90,396.89 423.88,396.89 424.85,396.89 425.83,396.89 426.81,396.89 427.78,396.89 428.76,396.89 429.73,396.89 430.71,396.89 431.68,396.89 432.66,396.89 433.64,396.89 434.61,396.89 435.59,396.89 436.56,396.89 437.54,396.89 438.52,396.89 439.49,396.89 440.47,396.89 441.44,396.89 442.42,396.89 443.40,396.89 444.37,396.89 445.35,396.89 446.32,396.89 447.30,396.89 448.28,396.88 449.25,396.88 450.23,396.87 451.20,396.86 452.18,396.84 453.16,396.80 454.13,396.74 455.11,396.62 456.08,396.42 457.06,396.06 458.03,395.45 459.01,394.41 459.99,392.72 460.96,390.15 461.94,386.58 462.91,382.21 463.89,377.65 464.87,373.57 465.84,370.43 466.82,368.26 467.79,366.88 468.77,366.05 469.75,365.56 470.72,365.28 471.70,365.12 472.67,365.02 473.65,364.97 474.63,364.94 475.60,364.93 476.58,364.92 477.55,364.91 478.53,364.91 479.50,364.91 480.48,364.91 481.46,364.91 482.43,364.91 483.41,364.91 484.38,364.91 485.36,364.91 486.34,364.91 487.31,364.91 488.29,364.91 489.26,364.91 490.24,364.91 491.22,364.91 492.19,364.91 493.17,364.91 494.14,364.91 495.12,364.91 496.10,364.91 497.07,364.91 498.05,364.91 499.02,364.91 500.00,364.91 500.97,364.91 501.95,364.91 502.93,364.91 503.90,364.91 504.88,364.91 505.85,364.91 506.83,364.91 507.81,364.91 508.78,364.91 509.76,364.91 510.73,364.91 511.71,364.91" fill="none" stroke="#46a846" stroke-width="1.15" stroke-linejoin="round" stroke-dasharray="2.8,2.2"/>
<polyline points="394.60,398.86 395.58,398.86 396.55,398.86 397.53,398.86 398.50,398.86 399.48,398.86 400.46,398.86 401.43,398.86 402.41,398.86 403.38,398.85 404.36,398.85 405.34,398.85 406.31,398.85 407.29,398.85 408.26,398.85 409.24,398.85 410.21,398.85 411.19,398.85 412.17,398.85 413.14,398.85 414.12,398.85 415.09,398.85 416.07,398.85 417.05,398.85 418.02,398.85 419.00,398.84 419.97,398.84 420.95,398.84 421.93,398.84 422.90,398.83 423.88,398.83 424.85,398.82 425.83,398.82 426.81,398.81 427.78,398.81 428.76,398.80 429.73,398.79 430.71,398.78 431.68,398.77 432.66,398.75 433.64,398.73 434.61,398.71 435.59,398.69 436.56,398.67 437.54,398.63 438.52,398.60 439.49,398.56 440.47,398.51 441.44,398.45 442.42,398.39 443.40,398.32 444.37,398.23 445.35,398.13 446.32,398.01 447.30,397.88 448.28,397.73 449.25,397.55 450.23,397.35 451.20,397.12 452.18,396.86 453.16,396.56 454.13,396.22 455.11,395.83 456.08,395.40 457.06,394.91 458.03,394.36 459.01,393.75 459.99,393.08 460.96,392.34 461.94,391.53 462.91,390.66 463.89,389.72 464.87,388.73 465.84,387.68 466.82,386.59 467.79,385.47 468.77,384.33 469.75,383.17 470.72,382.02 471.70,380.89 472.67,379.79 473.65,378.72 474.63,377.71 475.60,376.75 476.58,375.85 477.55,375.02 478.53,374.25 479.50,373.55 480.48,372.92 481.46,372.35 482.43,371.83 483.41,371.38 484.38,370.97 485.36,370.61 486.34,370.30 487.31,370.02 488.29,369.78 489.26,369.57 490.24,369.38 491.22,369.22 492.19,369.08 493.17,368.96 494.14,368.85 495.12,368.76 496.10,368.68 497.07,368.61 498.05,368.56 499.02,368.50 500.00,368.46 500.97,368.42 501.95,368.39 502.93,368.36 503.90,368.34 504.88,368.32 505.85,368.30 506.83,368.28 507.81,368.27 508.78,368.26 509.76,368.25 510.73,368.24 511.71,368.23" fill="none" stroke="#224884" stroke-width="1.15" stroke-linejoin="round" />
<polyline points="394.60,397.04 395.58,397.03 396.55,397.02 397.53,397.01 398.50,397.00 399.48,396.98 400.46,396.97 401.43,396.95 402.41,396.93 403.38,396.90 404.36,396.88 405.34,396.85 406.31,396.81 407.29,396.77 408.26,396.73 409.24,396.68 410.21,396.63 411.19,396.56 412.17,396.49 413.14,396.41 414.12,396.32 415.09,396.22 416.07,396.10 417.05,395.97 418.02,395.82 419.00,395.65 419.97,395.47 420.95,395.26 421.93,395.02 422.90,394.75 423.88,394.46 424.85,394.12 425.83,393.75 426.81,393.34 427.78,392.87 428.76,392.36 429.73,391.80 430.71,391.17 431.68,390.49 432.66,389.74 433.64,388.92 434.61,388.02 435.59,387.06 436.56,386.02 437.54,384.92 438.52,383.74 439.49,382.49 440.47,381.18 441.44,379.81 442.42,378.39 443.40,376.94 444.37,375.45 445.35,373.95 446.32,372.44 447.30,370.94 448.28,369.45 449.25,367.99 450.23,366.57 451.20,365.20 452.18,363.89 453.16,362.63 454.13,361.45 455.11,360.33 456.08,359.29 457.06,358.32 458.03,357.42 459.01,356.60 459.99,355.84 460.96,355.15 461.94,354.52 462.91,353.95 463.89,353.43 464.87,352.97 465.84,352.55 466.82,352.17 467.79,351.84 468.77,351.54 469.75,351.27 470.72,351.03 471.70,350.82 472.67,350.63 473.65,350.46 474.63,350.31 475.60,350.18 476.58,350.06 477.55,349.95 478.53,349.86 479.50,349.78 480.48,349.71 481.46,349.64 482.43,349.59 483.41,349.54 484.38,349.49 485.36,349.46 486.34,349.42 487.31,349.39 488.29,349.36 489.26,349.34 490.24,349.32 491.22,349.30 492.19,349.29 493.17,349.27 494.14,349.26 495.12,349.25 496.10,349.24 497.07,349.23 498.05,349.22 499.02,349.21 500.00,349.21 500.97,349.20 501.95,349.20 502.93,349.19 503.90,349.19 504.88,349.19 505.85,349.18 506.83,349.18 507.81,349.18 508.78,349.18 509.76,349.18 510.73,349.18 511.71,349.17" fill="none" stroke="#c3163c" stroke-width="1.15" stroke-linejoin="round" />
<polygon points="392.68,402.88 396.52,402.88 394.60,399.42" fill="#3b2450"/>
<polygon points="409.41,403.04 413.25,403.04 411.33,399.59" fill="#3b2450"/>
<polygon points="426.14,404.03 429.98,404.03 428.06,400.57" fill="#3b2450"/>
<polygon points="442.87,403.21 446.71,403.21 444.79,399.75" fill="#3b2450"/>
<polygon points="459.60,403.21 463.44,403.21 461.52,399.75" fill="#3b2450"/>
<polygon points="476.33,403.86 480.17,403.86 478.25,400.41" fill="#3b2450"/>
<polygon points="493.06,404.36 496.90,404.36 494.98,400.90" fill="#3b2450"/>
<polygon points="509.79,404.52 513.63,404.52 511.71,401.06" fill="#3b2450"/>
<rect x="392.84" y="397.26" width="3.52" height="3.52" fill="#173f76"/>
<rect x="409.57" y="396.77" width="3.52" height="3.52" fill="#173f76"/>
<rect x="426.30" y="397.10" width="3.52" height="3.52" fill="#173f76"/>
<rect x="443.03" y="396.44" width="3.52" height="3.52" fill="#173f76"/>
<rect x="459.76" y="390.21" width="3.52" height="3.52" fill="#173f76"/>
<rect x="476.49" y="372.50" width="3.52" height="3.52" fill="#173f76"/>
<rect x="493.22" y="368.07" width="3.52" height="3.52" fill="#173f76"/>
<rect x="509.95" y="365.61" width="3.52" height="3.52" fill="#173f76"/>
<circle cx="394.60" cy="397.38" r="1.804" fill="#2f8f2f"/>
<circle cx="411.33" cy="390.00" r="1.804" fill="#2f8f2f"/>
<circle cx="428.06" cy="397.71" r="1.804" fill="#2f8f2f"/>
<circle cx="444.79" cy="396.89" r="1.804" fill="#2f8f2f"/>
<circle cx="461.52" cy="388.03" r="1.804" fill="#2f8f2f"/>
<circle cx="478.25" cy="365.07" r="1.804" fill="#2f8f2f"/>
<circle cx="494.98" cy="369.83" r="1.804" fill="#2f8f2f"/>
<circle cx="511.71" cy="359.82" r="1.804" fill="#2f8f2f"/>
<circle cx="394.60" cy="398.20" r="1.87" fill="#c8102e"/>
<circle cx="411.33" cy="396.89" r="1.87" fill="#c8102e"/>
<circle cx="428.06" cy="390.49" r="1.87" fill="#c8102e"/>
<circle cx="444.79" cy="376.06" r="1.87" fill="#c8102e"/>
<circle cx="461.52" cy="353.92" r="1.87" fill="#c8102e"/>
<circle cx="478.25" cy="346.54" r="1.87" fill="#c8102e"/>
<circle cx="494.98" cy="351.95" r="1.87" fill="#c8102e"/>
<circle cx="511.71" cy="350.15" r="1.87" fill="#c8102e"/>
<line x1="394.60" y1="395.25" x2="394.60" y2="400.99" stroke="#c8102e" stroke-width="1.15" />
<line x1="393.00" y1="395.25" x2="396.20" y2="395.25" stroke="#c8102e" stroke-width="1.15" />
<line x1="393.00" y1="400.99" x2="396.20" y2="400.99" stroke="#c8102e" stroke-width="1.15" />
<line x1="428.06" y1="387.38" x2="428.06" y2="393.28" stroke="#c8102e" stroke-width="1.15" />
<line x1="426.46" y1="387.38" x2="429.66" y2="387.38" stroke="#c8102e" stroke-width="1.15" />
<line x1="426.46" y1="393.28" x2="429.66" y2="393.28" stroke="#c8102e" stroke-width="1.15" />
<line x1="444.79" y1="372.94" x2="444.79" y2="378.85" stroke="#c8102e" stroke-width="1.15" />
<line x1="443.19" y1="372.94" x2="446.39" y2="372.94" stroke="#c8102e" stroke-width="1.15" />
<line x1="443.19" y1="378.85" x2="446.39" y2="378.85" stroke="#c8102e" stroke-width="1.15" />
<line x1="461.52" y1="351.79" x2="461.52" y2="356.38" stroke="#c8102e" stroke-width="1.15" />
<line x1="459.92" y1="351.79" x2="463.12" y2="351.79" stroke="#c8102e" stroke-width="1.15" />
<line x1="459.92" y1="356.38" x2="463.12" y2="356.38" stroke="#c8102e" stroke-width="1.15" />
<line x1="494.98" y1="348.67" x2="494.98" y2="355.07" stroke="#c8102e" stroke-width="1.15" />
<line x1="493.38" y1="348.67" x2="496.58" y2="348.67" stroke="#c8102e" stroke-width="1.15" />
<line x1="493.38" y1="355.07" x2="496.58" y2="355.07" stroke="#c8102e" stroke-width="1.15" />
<line x1="511.71" y1="347.03" x2="511.71" y2="353.43" stroke="#c8102e" stroke-width="1.15" />
<line x1="510.11" y1="347.03" x2="513.31" y2="347.03" stroke="#c8102e" stroke-width="1.15" />
<line x1="510.11" y1="353.43" x2="513.31" y2="353.43" stroke="#c8102e" stroke-width="1.15" />
<line x1="411.33" y1="383.44" x2="411.33" y2="396.56" stroke="#2f8f2f" stroke-width="1.15" />
<line x1="409.73" y1="383.44" x2="412.93" y2="383.44" stroke="#2f8f2f" stroke-width="1.15" />
<line x1="409.73" y1="396.56" x2="412.93" y2="396.56" stroke="#2f8f2f" stroke-width="1.15" />
<line x1="478.25" y1="370.98" x2="478.25" y2="377.86" stroke="#173f76" stroke-width="1.15" />
<line x1="476.65" y1="370.98" x2="479.85" y2="370.98" stroke="#173f76" stroke-width="1.15" />
<line x1="476.65" y1="377.86" x2="479.85" y2="377.86" stroke="#173f76" stroke-width="1.15" />
<line x1="494.98" y1="367.37" x2="494.98" y2="372.62" stroke="#173f76" stroke-width="1.15" />
<line x1="493.38" y1="367.37" x2="496.58" y2="367.37" stroke="#173f76" stroke-width="1.15" />
<line x1="493.38" y1="372.62" x2="496.58" y2="372.62" stroke="#173f76" stroke-width="1.15" />
<line x1="511.71" y1="365.07" x2="511.71" y2="369.99" stroke="#173f76" stroke-width="1.15" />
<line x1="510.11" y1="365.07" x2="513.31" y2="365.07" stroke="#173f76" stroke-width="1.15" />
<line x1="510.11" y1="369.99" x2="513.31" y2="369.99" stroke="#173f76" stroke-width="1.15" />
<line x1="478.25" y1="358.84" x2="478.25" y2="371.14" stroke="#2f8f2f" stroke-width="1.15" />
<line x1="476.65" y1="358.84" x2="479.85" y2="358.84" stroke="#2f8f2f" stroke-width="1.15" />
<line x1="476.65" y1="371.14" x2="479.85" y2="371.14" stroke="#2f8f2f" stroke-width="1.15" />
<line x1="511.71" y1="356.71" x2="511.71" y2="363.27" stroke="#2f8f2f" stroke-width="1.15" />
<line x1="510.11" y1="356.71" x2="513.31" y2="356.71" stroke="#2f8f2f" stroke-width="1.15" />
<line x1="510.11" y1="363.27" x2="513.31" y2="363.27" stroke="#2f8f2f" stroke-width="1.15" />
<line x1="461.52" y1="396.56" x2="461.52" y2="405.58" stroke="#3b2450" stroke-width="1.15" />
<line x1="459.92" y1="396.56" x2="463.12" y2="396.56" stroke="#3b2450" stroke-width="1.15" />
<line x1="459.92" y1="405.58" x2="463.12" y2="405.58" stroke="#3b2450" stroke-width="1.15" />
<line x1="478.25" y1="398.20" x2="478.25" y2="405.42" stroke="#3b2450" stroke-width="1.15" />
<line x1="476.65" y1="398.20" x2="479.85" y2="398.20" stroke="#3b2450" stroke-width="1.15" />
<line x1="476.65" y1="405.42" x2="479.85" y2="405.42" stroke="#3b2450" stroke-width="1.15" />
<line x1="411.33" y1="398.20" x2="411.33" y2="404.43" stroke="#3b2450" stroke-width="1.15" />
<line x1="409.73" y1="398.20" x2="412.93" y2="398.20" stroke="#3b2450" stroke-width="1.15" />
<line x1="409.73" y1="404.43" x2="412.93" y2="404.43" stroke="#3b2450" stroke-width="1.15" />
<line x1="444.79" y1="397.38" x2="444.79" y2="404.76" stroke="#3b2450" stroke-width="1.15" />
<line x1="443.19" y1="397.38" x2="446.39" y2="397.38" stroke="#3b2450" stroke-width="1.15" />
<line x1="443.19" y1="404.76" x2="446.39" y2="404.76" stroke="#3b2450" stroke-width="1.15" />
<line x1="511.71" y1="399.84" x2="511.71" y2="405.09" stroke="#3b2450" stroke-width="1.15" />
<line x1="510.11" y1="399.84" x2="513.31" y2="399.84" stroke="#3b2450" stroke-width="1.15" />
<line x1="510.11" y1="405.09" x2="513.31" y2="405.09" stroke="#3b2450" stroke-width="1.15" />
</svg></div></body></html>
